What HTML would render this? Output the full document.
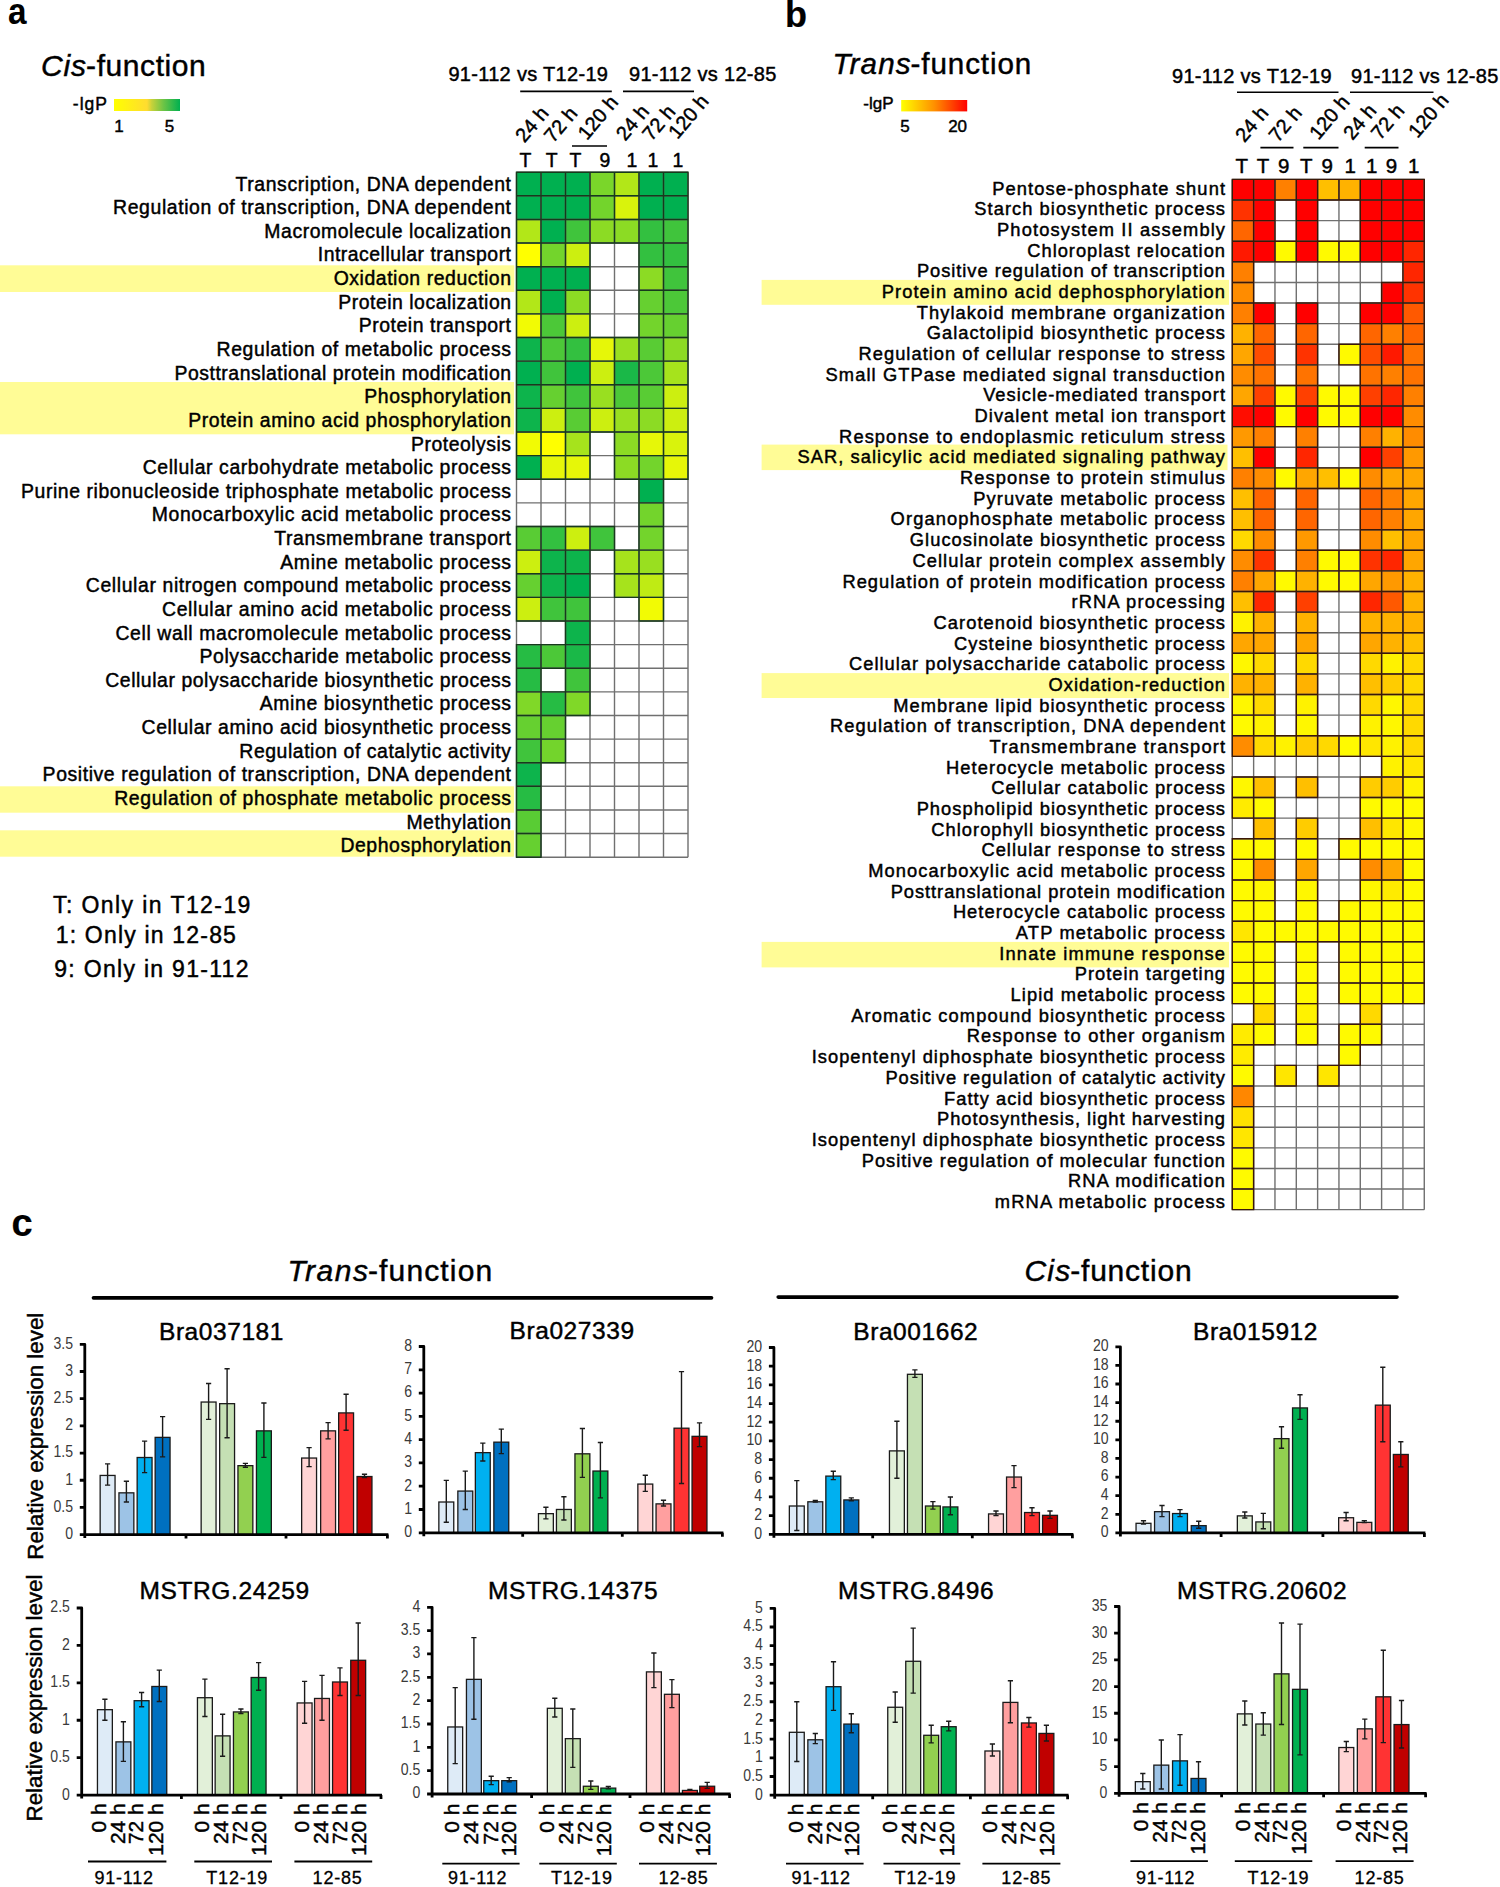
<!DOCTYPE html>
<html><head><meta charset="utf-8"><title>Figure</title>
<style>html,body{margin:0;padding:0;background:#fff;}svg{display:block;}svg text{font-family:"Liberation Sans",sans-serif;}</style>
</head><body>
<svg width="1500" height="1887" viewBox="0 0 1500 1887">
<defs><linearGradient id="gA" x1="0" x2="1" y1="0" y2="0"><stop offset="0" stop-color="#ffff00"/><stop offset="0.5" stop-color="#ffdc30"/><stop offset="0.57" stop-color="#c8d23a"/><stop offset="0.75" stop-color="#6cc446"/><stop offset="1" stop-color="#00b050"/></linearGradient><linearGradient id="gB" x1="0" x2="1" y1="0" y2="0"><stop offset="0" stop-color="#ffff00"/><stop offset="0.5" stop-color="#ff9000"/><stop offset="1" stop-color="#ff0000"/></linearGradient></defs>
<rect width="1500" height="1887" fill="#fff"/>
<text x="8.00" y="24.00" font-size="37" textLength="18.52" lengthAdjust="spacingAndGlyphs" font-weight="bold">a</text>
<text x="785.00" y="26.70" font-size="36" font-weight="bold" stroke="#000" stroke-width="0.2">b</text>
<text x="11.50" y="1236.40" font-size="38" font-weight="bold" stroke="#000" stroke-width="0.2">c</text>
<text x="41.00" y="76.00" font-size="30" textLength="45.06" lengthAdjust="spacing" font-style="italic" stroke="#000" stroke-width="0.45">Cis</text>
<text x="86.06" y="76.00" font-size="30" textLength="119.67" lengthAdjust="spacing" stroke="#000" stroke-width="0.45">-function</text>
<text x="72.77" y="109.90" font-size="17.5" textLength="34.23" lengthAdjust="spacing" stroke="#000" stroke-width="0.45">-lgP</text>
<rect x="114.00" y="99.00" width="66.00" height="12.00" fill="url(#gA)"/>
<text x="114.27" y="132.00" font-size="17" stroke="#000" stroke-width="0.45">1</text>
<text x="164.77" y="132.00" font-size="17" stroke="#000" stroke-width="0.45">5</text>
<text x="448.40" y="81.00" font-size="20" textLength="159.56" lengthAdjust="spacing" stroke="#000" stroke-width="0.45">91-112 vs T12-19</text>
<text x="629.00" y="81.00" font-size="20" textLength="147.35" lengthAdjust="spacing" stroke="#000" stroke-width="0.45">91-112 vs 12-85</text>
<line x1="520.20" y1="91.40" x2="611.80" y2="91.40" stroke="#000" stroke-width="1.6"/>
<line x1="623.00" y1="91.40" x2="694.00" y2="91.40" stroke="#000" stroke-width="1.6"/>
<line x1="572.00" y1="146.00" x2="607.00" y2="146.00" stroke="#000" stroke-width="1.6"/>
<text x="519.57" y="166.50" font-size="19.4" stroke="#000" stroke-width="0.45">T</text>
<text x="545.77" y="166.50" font-size="19.4" stroke="#000" stroke-width="0.45">T</text>
<text x="569.57" y="166.50" font-size="19.4" stroke="#000" stroke-width="0.45">T</text>
<text x="599.61" y="166.50" font-size="19.4" stroke="#000" stroke-width="0.45">9</text>
<text x="626.61" y="166.50" font-size="19.4" stroke="#000" stroke-width="0.45">1</text>
<text x="647.61" y="166.50" font-size="19.4" stroke="#000" stroke-width="0.45">1</text>
<text x="672.61" y="166.50" font-size="19.4" stroke="#000" stroke-width="0.45">1</text>
<text x="0" y="0" font-size="20" stroke="#000" stroke-width="0.45" transform="translate(524.60,143.60) rotate(-50)">24 h</text>
<text x="0" y="0" font-size="20" stroke="#000" stroke-width="0.45" transform="translate(553.30,143.70) rotate(-50)">72 h</text>
<text x="0" y="0" font-size="20" stroke="#000" stroke-width="0.45" transform="translate(586.90,141.00) rotate(-50)">120 h</text>
<text x="0" y="0" font-size="20" stroke="#000" stroke-width="0.45" transform="translate(625.20,141.70) rotate(-50)">24 h</text>
<text x="0" y="0" font-size="20" stroke="#000" stroke-width="0.45" transform="translate(651.50,142.10) rotate(-50)">72 h</text>
<text x="0" y="0" font-size="20" stroke="#000" stroke-width="0.45" transform="translate(677.60,140.00) rotate(-50)">120 h</text>
<rect x="0.00" y="265.30" width="514.30" height="26.70" fill="#FFFC96"/>
<rect x="0.00" y="382.00" width="514.00" height="52.30" fill="#FFFC96"/>
<rect x="0.00" y="786.30" width="514.00" height="26.40" fill="#FFFC96"/>
<rect x="0.00" y="830.30" width="514.00" height="26.40" fill="#FFFC96"/>
<text x="235.52" y="190.60" font-size="19.4" textLength="275.48" lengthAdjust="spacing" stroke="#000" stroke-width="0.45">Transcription, DNA dependent</text>
<text x="113.09" y="214.23" font-size="19.4" textLength="397.91" lengthAdjust="spacing" stroke="#000" stroke-width="0.45">Regulation of transcription, DNA dependent</text>
<text x="264.36" y="237.86" font-size="19.4" textLength="246.64" lengthAdjust="spacing" stroke="#000" stroke-width="0.45">Macromolecule localization</text>
<text x="317.78" y="261.49" font-size="19.4" textLength="193.22" lengthAdjust="spacing" stroke="#000" stroke-width="0.45">Intracellular transport</text>
<text x="333.67" y="285.12" font-size="19.4" textLength="177.33" lengthAdjust="spacing" stroke="#000" stroke-width="0.45">Oxidation reduction</text>
<text x="338.22" y="308.75" font-size="19.4" textLength="172.78" lengthAdjust="spacing" stroke="#000" stroke-width="0.45">Protein localization</text>
<text x="358.68" y="332.38" font-size="19.4" textLength="152.32" lengthAdjust="spacing" stroke="#000" stroke-width="0.45">Protein transport</text>
<text x="216.57" y="356.01" font-size="19.4" textLength="294.43" lengthAdjust="spacing" stroke="#000" stroke-width="0.45">Regulation of metabolic process</text>
<text x="174.53" y="379.64" font-size="19.4" textLength="336.47" lengthAdjust="spacing" stroke="#000" stroke-width="0.45">Posttranslational protein modification</text>
<text x="364.36" y="403.27" font-size="19.4" textLength="146.64" lengthAdjust="spacing" stroke="#000" stroke-width="0.45">Phosphorylation</text>
<text x="188.14" y="426.90" font-size="19.4" textLength="322.86" lengthAdjust="spacing" stroke="#000" stroke-width="0.45">Protein amino acid phosphorylation</text>
<text x="411.00" y="450.53" font-size="19.4" textLength="100.00" lengthAdjust="spacing" stroke="#000" stroke-width="0.45">Proteolysis</text>
<text x="142.72" y="474.16" font-size="19.4" textLength="368.28" lengthAdjust="spacing" stroke="#000" stroke-width="0.45">Cellular carbohydrate metabolic process</text>
<text x="21.04" y="497.79" font-size="19.4" textLength="489.96" lengthAdjust="spacing" stroke="#000" stroke-width="0.45">Purine ribonucleoside triphosphate metabolic process</text>
<text x="151.82" y="521.42" font-size="19.4" textLength="359.18" lengthAdjust="spacing" stroke="#000" stroke-width="0.45">Monocarboxylic acid metabolic process</text>
<text x="274.22" y="545.05" font-size="19.4" textLength="236.78" lengthAdjust="spacing" stroke="#000" stroke-width="0.45">Transmembrane transport</text>
<text x="280.27" y="568.68" font-size="19.4" textLength="230.73" lengthAdjust="spacing" stroke="#000" stroke-width="0.45">Amine metabolic process</text>
<text x="85.85" y="592.31" font-size="19.4" textLength="425.15" lengthAdjust="spacing" stroke="#000" stroke-width="0.45">Cellular nitrogen compound metabolic process</text>
<text x="162.04" y="615.94" font-size="19.4" textLength="348.96" lengthAdjust="spacing" stroke="#000" stroke-width="0.45">Cellular amino acid metabolic process</text>
<text x="115.47" y="639.57" font-size="19.4" textLength="395.53" lengthAdjust="spacing" stroke="#000" stroke-width="0.45">Cell wall macromolecule metabolic process</text>
<text x="199.56" y="663.20" font-size="19.4" textLength="311.44" lengthAdjust="spacing" stroke="#000" stroke-width="0.45">Polysaccharide metabolic process</text>
<text x="105.21" y="686.83" font-size="19.4" textLength="405.79" lengthAdjust="spacing" stroke="#000" stroke-width="0.45">Cellular polysaccharide biosynthetic process</text>
<text x="259.80" y="710.46" font-size="19.4" textLength="251.20" lengthAdjust="spacing" stroke="#000" stroke-width="0.45">Amine biosynthetic process</text>
<text x="141.57" y="734.09" font-size="19.4" textLength="369.43" lengthAdjust="spacing" stroke="#000" stroke-width="0.45">Cellular amino acid biosynthetic process</text>
<text x="239.33" y="757.72" font-size="19.4" textLength="271.67" lengthAdjust="spacing" stroke="#000" stroke-width="0.45">Regulation of catalytic activity</text>
<text x="42.62" y="781.35" font-size="19.4" textLength="468.38" lengthAdjust="spacing" stroke="#000" stroke-width="0.45">Positive regulation of transcription, DNA dependent</text>
<text x="114.23" y="804.98" font-size="19.4" textLength="396.77" lengthAdjust="spacing" stroke="#000" stroke-width="0.45">Regulation of phosphate metabolic process</text>
<text x="406.43" y="828.61" font-size="19.4" textLength="104.57" lengthAdjust="spacing" stroke="#000" stroke-width="0.45">Methylation</text>
<text x="340.48" y="852.24" font-size="19.4" textLength="170.52" lengthAdjust="spacing" stroke="#000" stroke-width="0.45">Dephosphorylation</text>
<rect x="516.50" y="172.20" width="24.50" height="23.62" fill="rgb(0,176,80)"/>
<rect x="541.00" y="172.20" width="24.50" height="23.62" fill="rgb(0,176,80)"/>
<rect x="565.50" y="172.20" width="24.50" height="23.62" fill="rgb(0,176,80)"/>
<rect x="590.00" y="172.20" width="24.50" height="23.62" fill="rgb(122,214,42)"/>
<rect x="614.50" y="172.20" width="24.50" height="23.62" fill="rgb(178,231,24)"/>
<rect x="639.00" y="172.20" width="24.50" height="23.62" fill="rgb(0,176,80)"/>
<rect x="663.50" y="172.20" width="24.50" height="23.62" fill="rgb(0,176,80)"/>
<rect x="516.50" y="195.82" width="24.50" height="23.62" fill="rgb(0,176,80)"/>
<rect x="541.00" y="195.82" width="24.50" height="23.62" fill="rgb(0,176,80)"/>
<rect x="565.50" y="195.82" width="24.50" height="23.62" fill="rgb(0,176,80)"/>
<rect x="590.00" y="195.82" width="24.50" height="23.62" fill="rgb(115,212,44)"/>
<rect x="614.50" y="195.82" width="24.50" height="23.62" fill="rgb(217,243,12)"/>
<rect x="639.00" y="195.82" width="24.50" height="23.62" fill="rgb(0,176,80)"/>
<rect x="663.50" y="195.82" width="24.50" height="23.62" fill="rgb(0,176,80)"/>
<rect x="516.50" y="219.44" width="24.50" height="23.62" fill="rgb(178,231,24)"/>
<rect x="541.00" y="219.44" width="24.50" height="23.62" fill="rgb(0,176,80)"/>
<rect x="565.50" y="219.44" width="24.50" height="23.62" fill="rgb(64,196,60)"/>
<rect x="590.00" y="219.44" width="24.50" height="23.62" fill="rgb(140,219,36)"/>
<rect x="614.50" y="219.44" width="24.50" height="23.62" fill="rgb(140,219,36)"/>
<rect x="639.00" y="219.44" width="24.50" height="23.62" fill="rgb(51,192,64)"/>
<rect x="663.50" y="219.44" width="24.50" height="23.62" fill="rgb(64,196,60)"/>
<rect x="516.50" y="243.06" width="24.50" height="23.62" fill="rgb(255,255,0)"/>
<rect x="541.00" y="243.06" width="24.50" height="23.62" fill="rgb(115,212,44)"/>
<rect x="565.50" y="243.06" width="24.50" height="23.62" fill="rgb(204,239,16)"/>
<rect x="639.00" y="243.06" width="24.50" height="23.62" fill="rgb(51,192,64)"/>
<rect x="663.50" y="243.06" width="24.50" height="23.62" fill="rgb(51,192,64)"/>
<rect x="516.50" y="266.68" width="24.50" height="23.62" fill="rgb(0,176,80)"/>
<rect x="541.00" y="266.68" width="24.50" height="23.62" fill="rgb(0,176,80)"/>
<rect x="565.50" y="266.68" width="24.50" height="23.62" fill="rgb(0,176,80)"/>
<rect x="639.00" y="266.68" width="24.50" height="23.62" fill="rgb(140,219,36)"/>
<rect x="663.50" y="266.68" width="24.50" height="23.62" fill="rgb(64,196,60)"/>
<rect x="516.50" y="290.30" width="24.50" height="23.62" fill="rgb(178,231,24)"/>
<rect x="541.00" y="290.30" width="24.50" height="23.62" fill="rgb(0,176,80)"/>
<rect x="565.50" y="290.30" width="24.50" height="23.62" fill="rgb(140,219,36)"/>
<rect x="639.00" y="290.30" width="24.50" height="23.62" fill="rgb(102,208,48)"/>
<rect x="663.50" y="290.30" width="24.50" height="23.62" fill="rgb(76,200,56)"/>
<rect x="516.50" y="313.92" width="24.50" height="23.62" fill="rgb(242,251,4)"/>
<rect x="541.00" y="313.92" width="24.50" height="23.62" fill="rgb(76,200,56)"/>
<rect x="565.50" y="313.92" width="24.50" height="23.62" fill="rgb(204,239,16)"/>
<rect x="639.00" y="313.92" width="24.50" height="23.62" fill="rgb(115,212,44)"/>
<rect x="663.50" y="313.92" width="24.50" height="23.62" fill="rgb(102,208,48)"/>
<rect x="516.50" y="337.54" width="24.50" height="23.62" fill="rgb(13,180,76)"/>
<rect x="541.00" y="337.54" width="24.50" height="23.62" fill="rgb(76,200,56)"/>
<rect x="565.50" y="337.54" width="24.50" height="23.62" fill="rgb(51,192,64)"/>
<rect x="590.00" y="337.54" width="24.50" height="23.62" fill="rgb(230,247,8)"/>
<rect x="614.50" y="337.54" width="24.50" height="23.62" fill="rgb(153,223,32)"/>
<rect x="639.00" y="337.54" width="24.50" height="23.62" fill="rgb(89,204,52)"/>
<rect x="663.50" y="337.54" width="24.50" height="23.62" fill="rgb(140,219,36)"/>
<rect x="516.50" y="361.16" width="24.50" height="23.62" fill="rgb(0,176,80)"/>
<rect x="541.00" y="361.16" width="24.50" height="23.62" fill="rgb(64,196,60)"/>
<rect x="565.50" y="361.16" width="24.50" height="23.62" fill="rgb(0,176,80)"/>
<rect x="590.00" y="361.16" width="24.50" height="23.62" fill="rgb(204,239,16)"/>
<rect x="614.50" y="361.16" width="24.50" height="23.62" fill="rgb(26,184,72)"/>
<rect x="639.00" y="361.16" width="24.50" height="23.62" fill="rgb(76,200,56)"/>
<rect x="663.50" y="361.16" width="24.50" height="23.62" fill="rgb(166,227,28)"/>
<rect x="516.50" y="384.78" width="24.50" height="23.62" fill="rgb(13,180,76)"/>
<rect x="541.00" y="384.78" width="24.50" height="23.62" fill="rgb(102,208,48)"/>
<rect x="565.50" y="384.78" width="24.50" height="23.62" fill="rgb(64,196,60)"/>
<rect x="590.00" y="384.78" width="24.50" height="23.62" fill="rgb(153,223,32)"/>
<rect x="614.50" y="384.78" width="24.50" height="23.62" fill="rgb(76,200,56)"/>
<rect x="639.00" y="384.78" width="24.50" height="23.62" fill="rgb(89,204,52)"/>
<rect x="663.50" y="384.78" width="24.50" height="23.62" fill="rgb(204,239,16)"/>
<rect x="516.50" y="408.40" width="24.50" height="23.62" fill="rgb(13,180,76)"/>
<rect x="541.00" y="408.40" width="24.50" height="23.62" fill="rgb(204,239,16)"/>
<rect x="565.50" y="408.40" width="24.50" height="23.62" fill="rgb(89,204,52)"/>
<rect x="590.00" y="408.40" width="24.50" height="23.62" fill="rgb(204,239,16)"/>
<rect x="614.50" y="408.40" width="24.50" height="23.62" fill="rgb(153,223,32)"/>
<rect x="639.00" y="408.40" width="24.50" height="23.62" fill="rgb(140,219,36)"/>
<rect x="663.50" y="408.40" width="24.50" height="23.62" fill="rgb(204,239,16)"/>
<rect x="516.50" y="432.02" width="24.50" height="23.62" fill="rgb(242,251,4)"/>
<rect x="541.00" y="432.02" width="24.50" height="23.62" fill="rgb(255,255,0)"/>
<rect x="565.50" y="432.02" width="24.50" height="23.62" fill="rgb(166,227,28)"/>
<rect x="614.50" y="432.02" width="24.50" height="23.62" fill="rgb(140,219,36)"/>
<rect x="639.00" y="432.02" width="24.50" height="23.62" fill="rgb(230,247,8)"/>
<rect x="663.50" y="432.02" width="24.50" height="23.62" fill="rgb(217,243,12)"/>
<rect x="516.50" y="455.64" width="24.50" height="23.62" fill="rgb(0,176,80)"/>
<rect x="541.00" y="455.64" width="24.50" height="23.62" fill="rgb(230,247,8)"/>
<rect x="565.50" y="455.64" width="24.50" height="23.62" fill="rgb(230,247,8)"/>
<rect x="614.50" y="455.64" width="24.50" height="23.62" fill="rgb(140,219,36)"/>
<rect x="639.00" y="455.64" width="24.50" height="23.62" fill="rgb(115,212,44)"/>
<rect x="663.50" y="455.64" width="24.50" height="23.62" fill="rgb(230,247,8)"/>
<rect x="639.00" y="479.26" width="24.50" height="23.62" fill="rgb(0,176,80)"/>
<rect x="639.00" y="502.88" width="24.50" height="23.62" fill="rgb(115,212,44)"/>
<rect x="516.50" y="526.50" width="24.50" height="23.62" fill="rgb(89,204,52)"/>
<rect x="541.00" y="526.50" width="24.50" height="23.62" fill="rgb(51,192,64)"/>
<rect x="565.50" y="526.50" width="24.50" height="23.62" fill="rgb(204,239,16)"/>
<rect x="590.00" y="526.50" width="24.50" height="23.62" fill="rgb(64,196,60)"/>
<rect x="639.00" y="526.50" width="24.50" height="23.62" fill="rgb(115,212,44)"/>
<rect x="516.50" y="550.12" width="24.50" height="23.62" fill="rgb(204,239,16)"/>
<rect x="541.00" y="550.12" width="24.50" height="23.62" fill="rgb(13,180,76)"/>
<rect x="565.50" y="550.12" width="24.50" height="23.62" fill="rgb(13,180,76)"/>
<rect x="614.50" y="550.12" width="24.50" height="23.62" fill="rgb(166,227,28)"/>
<rect x="639.00" y="550.12" width="24.50" height="23.62" fill="rgb(153,223,32)"/>
<rect x="516.50" y="573.74" width="24.50" height="23.62" fill="rgb(102,208,48)"/>
<rect x="541.00" y="573.74" width="24.50" height="23.62" fill="rgb(13,180,76)"/>
<rect x="565.50" y="573.74" width="24.50" height="23.62" fill="rgb(0,176,80)"/>
<rect x="614.50" y="573.74" width="24.50" height="23.62" fill="rgb(166,227,28)"/>
<rect x="639.00" y="573.74" width="24.50" height="23.62" fill="rgb(191,235,20)"/>
<rect x="516.50" y="597.36" width="24.50" height="23.62" fill="rgb(204,239,16)"/>
<rect x="541.00" y="597.36" width="24.50" height="23.62" fill="rgb(64,196,60)"/>
<rect x="565.50" y="597.36" width="24.50" height="23.62" fill="rgb(64,196,60)"/>
<rect x="639.00" y="597.36" width="24.50" height="23.62" fill="rgb(242,251,4)"/>
<rect x="565.50" y="620.98" width="24.50" height="23.62" fill="rgb(13,180,76)"/>
<rect x="516.50" y="644.60" width="24.50" height="23.62" fill="rgb(38,188,68)"/>
<rect x="541.00" y="644.60" width="24.50" height="23.62" fill="rgb(76,200,56)"/>
<rect x="565.50" y="644.60" width="24.50" height="23.62" fill="rgb(26,184,72)"/>
<rect x="516.50" y="668.22" width="24.50" height="23.62" fill="rgb(38,188,68)"/>
<rect x="565.50" y="668.22" width="24.50" height="23.62" fill="rgb(64,196,60)"/>
<rect x="516.50" y="691.84" width="24.50" height="23.62" fill="rgb(128,216,40)"/>
<rect x="541.00" y="691.84" width="24.50" height="23.62" fill="rgb(38,188,68)"/>
<rect x="565.50" y="691.84" width="24.50" height="23.62" fill="rgb(128,216,40)"/>
<rect x="516.50" y="715.46" width="24.50" height="23.62" fill="rgb(102,208,48)"/>
<rect x="541.00" y="715.46" width="24.50" height="23.62" fill="rgb(102,208,48)"/>
<rect x="516.50" y="739.08" width="24.50" height="23.62" fill="rgb(64,196,60)"/>
<rect x="541.00" y="739.08" width="24.50" height="23.62" fill="rgb(115,212,44)"/>
<rect x="516.50" y="762.70" width="24.50" height="23.62" fill="rgb(13,180,76)"/>
<rect x="516.50" y="786.32" width="24.50" height="23.62" fill="rgb(38,188,68)"/>
<rect x="516.50" y="809.94" width="24.50" height="23.62" fill="rgb(89,204,52)"/>
<rect x="516.50" y="833.56" width="24.50" height="23.62" fill="rgb(102,208,48)"/>
<path d="M516.50 172.20H688.00M516.50 195.82H688.00M516.50 219.44H688.00M516.50 243.06H688.00M516.50 266.68H688.00M516.50 290.30H688.00M516.50 313.92H688.00M516.50 337.54H688.00M516.50 361.16H688.00M516.50 384.78H688.00M516.50 408.40H688.00M516.50 432.02H688.00M516.50 455.64H688.00M516.50 479.26H688.00M516.50 502.88H688.00M516.50 526.50H688.00M516.50 550.12H688.00M516.50 573.74H688.00M516.50 597.36H688.00M516.50 620.98H688.00M516.50 644.60H688.00M516.50 668.22H688.00M516.50 691.84H688.00M516.50 715.46H688.00M516.50 739.08H688.00M516.50 762.70H688.00M516.50 786.32H688.00M516.50 809.94H688.00M516.50 833.56H688.00M516.50 857.18H688.00M516.50 172.20V857.18M541.00 172.20V857.18M565.50 172.20V857.18M590.00 172.20V857.18M614.50 172.20V857.18M639.00 172.20V857.18M663.50 172.20V857.18M688.00 172.20V857.18" stroke="#707070" stroke-width="1.4" fill="none"/>
<path d="M516.50 172.20h24.50v23.62h-24.50zM541.00 172.20h24.50v23.62h-24.50zM565.50 172.20h24.50v23.62h-24.50zM590.00 172.20h24.50v23.62h-24.50zM614.50 172.20h24.50v23.62h-24.50zM639.00 172.20h24.50v23.62h-24.50zM663.50 172.20h24.50v23.62h-24.50zM516.50 195.82h24.50v23.62h-24.50zM541.00 195.82h24.50v23.62h-24.50zM565.50 195.82h24.50v23.62h-24.50zM590.00 195.82h24.50v23.62h-24.50zM614.50 195.82h24.50v23.62h-24.50zM639.00 195.82h24.50v23.62h-24.50zM663.50 195.82h24.50v23.62h-24.50zM516.50 219.44h24.50v23.62h-24.50zM541.00 219.44h24.50v23.62h-24.50zM565.50 219.44h24.50v23.62h-24.50zM590.00 219.44h24.50v23.62h-24.50zM614.50 219.44h24.50v23.62h-24.50zM639.00 219.44h24.50v23.62h-24.50zM663.50 219.44h24.50v23.62h-24.50zM516.50 243.06h24.50v23.62h-24.50zM541.00 243.06h24.50v23.62h-24.50zM565.50 243.06h24.50v23.62h-24.50zM639.00 243.06h24.50v23.62h-24.50zM663.50 243.06h24.50v23.62h-24.50zM516.50 266.68h24.50v23.62h-24.50zM541.00 266.68h24.50v23.62h-24.50zM565.50 266.68h24.50v23.62h-24.50zM639.00 266.68h24.50v23.62h-24.50zM663.50 266.68h24.50v23.62h-24.50zM516.50 290.30h24.50v23.62h-24.50zM541.00 290.30h24.50v23.62h-24.50zM565.50 290.30h24.50v23.62h-24.50zM639.00 290.30h24.50v23.62h-24.50zM663.50 290.30h24.50v23.62h-24.50zM516.50 313.92h24.50v23.62h-24.50zM541.00 313.92h24.50v23.62h-24.50zM565.50 313.92h24.50v23.62h-24.50zM639.00 313.92h24.50v23.62h-24.50zM663.50 313.92h24.50v23.62h-24.50zM516.50 337.54h24.50v23.62h-24.50zM541.00 337.54h24.50v23.62h-24.50zM565.50 337.54h24.50v23.62h-24.50zM590.00 337.54h24.50v23.62h-24.50zM614.50 337.54h24.50v23.62h-24.50zM639.00 337.54h24.50v23.62h-24.50zM663.50 337.54h24.50v23.62h-24.50zM516.50 361.16h24.50v23.62h-24.50zM541.00 361.16h24.50v23.62h-24.50zM565.50 361.16h24.50v23.62h-24.50zM590.00 361.16h24.50v23.62h-24.50zM614.50 361.16h24.50v23.62h-24.50zM639.00 361.16h24.50v23.62h-24.50zM663.50 361.16h24.50v23.62h-24.50zM516.50 384.78h24.50v23.62h-24.50zM541.00 384.78h24.50v23.62h-24.50zM565.50 384.78h24.50v23.62h-24.50zM590.00 384.78h24.50v23.62h-24.50zM614.50 384.78h24.50v23.62h-24.50zM639.00 384.78h24.50v23.62h-24.50zM663.50 384.78h24.50v23.62h-24.50zM516.50 408.40h24.50v23.62h-24.50zM541.00 408.40h24.50v23.62h-24.50zM565.50 408.40h24.50v23.62h-24.50zM590.00 408.40h24.50v23.62h-24.50zM614.50 408.40h24.50v23.62h-24.50zM639.00 408.40h24.50v23.62h-24.50zM663.50 408.40h24.50v23.62h-24.50zM516.50 432.02h24.50v23.62h-24.50zM541.00 432.02h24.50v23.62h-24.50zM565.50 432.02h24.50v23.62h-24.50zM614.50 432.02h24.50v23.62h-24.50zM639.00 432.02h24.50v23.62h-24.50zM663.50 432.02h24.50v23.62h-24.50zM516.50 455.64h24.50v23.62h-24.50zM541.00 455.64h24.50v23.62h-24.50zM565.50 455.64h24.50v23.62h-24.50zM614.50 455.64h24.50v23.62h-24.50zM639.00 455.64h24.50v23.62h-24.50zM663.50 455.64h24.50v23.62h-24.50zM639.00 479.26h24.50v23.62h-24.50zM639.00 502.88h24.50v23.62h-24.50zM516.50 526.50h24.50v23.62h-24.50zM541.00 526.50h24.50v23.62h-24.50zM565.50 526.50h24.50v23.62h-24.50zM590.00 526.50h24.50v23.62h-24.50zM639.00 526.50h24.50v23.62h-24.50zM516.50 550.12h24.50v23.62h-24.50zM541.00 550.12h24.50v23.62h-24.50zM565.50 550.12h24.50v23.62h-24.50zM614.50 550.12h24.50v23.62h-24.50zM639.00 550.12h24.50v23.62h-24.50zM516.50 573.74h24.50v23.62h-24.50zM541.00 573.74h24.50v23.62h-24.50zM565.50 573.74h24.50v23.62h-24.50zM614.50 573.74h24.50v23.62h-24.50zM639.00 573.74h24.50v23.62h-24.50zM516.50 597.36h24.50v23.62h-24.50zM541.00 597.36h24.50v23.62h-24.50zM565.50 597.36h24.50v23.62h-24.50zM639.00 597.36h24.50v23.62h-24.50zM565.50 620.98h24.50v23.62h-24.50zM516.50 644.60h24.50v23.62h-24.50zM541.00 644.60h24.50v23.62h-24.50zM565.50 644.60h24.50v23.62h-24.50zM516.50 668.22h24.50v23.62h-24.50zM565.50 668.22h24.50v23.62h-24.50zM516.50 691.84h24.50v23.62h-24.50zM541.00 691.84h24.50v23.62h-24.50zM565.50 691.84h24.50v23.62h-24.50zM516.50 715.46h24.50v23.62h-24.50zM541.00 715.46h24.50v23.62h-24.50zM516.50 739.08h24.50v23.62h-24.50zM541.00 739.08h24.50v23.62h-24.50zM516.50 762.70h24.50v23.62h-24.50zM516.50 786.32h24.50v23.62h-24.50zM516.50 809.94h24.50v23.62h-24.50zM516.50 833.56h24.50v23.62h-24.50z" stroke="#173a1c" stroke-width="1.4" fill="none"/>
<text x="52.98" y="913.20" font-size="23" textLength="197.43" lengthAdjust="spacing" stroke="#000" stroke-width="0.45">T: Only in T12-19</text>
<text x="55.69" y="942.90" font-size="23" textLength="180.23" lengthAdjust="spacing" stroke="#000" stroke-width="0.45">1: Only in 12-85</text>
<text x="54.24" y="976.70" font-size="23" textLength="194.27" lengthAdjust="spacing" stroke="#000" stroke-width="0.45">9: Only in 91-112</text>
<text x="832.50" y="73.80" font-size="29.6" textLength="78.10" lengthAdjust="spacing" font-style="italic" stroke="#000" stroke-width="0.45">Trans</text>
<text x="910.60" y="73.80" font-size="29.6" textLength="120.68" lengthAdjust="spacing" stroke="#000" stroke-width="0.45">-function</text>
<text x="863.37" y="109.20" font-size="17" stroke="#000" stroke-width="0.45">-lgP</text>
<rect x="901.20" y="100.00" width="66.00" height="11.40" fill="url(#gB)"/>
<text x="900.27" y="131.60" font-size="17" stroke="#000" stroke-width="0.45">5</text>
<text x="948.15" y="131.60" font-size="17" stroke="#000" stroke-width="0.45">20</text>
<text x="1172.00" y="82.50" font-size="20" textLength="159.56" lengthAdjust="spacing" stroke="#000" stroke-width="0.45">91-112 vs T12-19</text>
<text x="1351.00" y="82.50" font-size="20" textLength="147.35" lengthAdjust="spacing" stroke="#000" stroke-width="0.45">91-112 vs 12-85</text>
<line x1="1237.00" y1="92.30" x2="1338.50" y2="92.30" stroke="#000" stroke-width="1.6"/>
<line x1="1350.00" y1="92.30" x2="1433.50" y2="92.30" stroke="#000" stroke-width="1.6"/>
<line x1="1260.40" y1="147.60" x2="1293.50" y2="147.60" stroke="#000" stroke-width="1.6"/>
<line x1="1303.30" y1="147.60" x2="1338.50" y2="147.60" stroke="#000" stroke-width="1.6"/>
<line x1="1364.70" y1="147.60" x2="1398.50" y2="147.60" stroke="#000" stroke-width="1.6"/>
<text x="1235.44" y="172.50" font-size="20.5" stroke="#000" stroke-width="0.45">T</text>
<text x="1256.74" y="172.50" font-size="20.5" stroke="#000" stroke-width="0.45">T</text>
<text x="1278.00" y="172.50" font-size="20.5" stroke="#000" stroke-width="0.45">9</text>
<text x="1300.04" y="172.50" font-size="20.5" stroke="#000" stroke-width="0.45">T</text>
<text x="1321.60" y="172.50" font-size="20.5" stroke="#000" stroke-width="0.45">9</text>
<text x="1344.50" y="172.50" font-size="20.5" stroke="#000" stroke-width="0.45">1</text>
<text x="1366.00" y="172.50" font-size="20.5" stroke="#000" stroke-width="0.45">1</text>
<text x="1385.80" y="172.50" font-size="20.5" stroke="#000" stroke-width="0.45">9</text>
<text x="1407.90" y="172.50" font-size="20.5" stroke="#000" stroke-width="0.45">1</text>
<text x="0" y="0" font-size="20" stroke="#000" stroke-width="0.45" transform="translate(1244.40,143.30) rotate(-50)">24 h</text>
<text x="0" y="0" font-size="20" stroke="#000" stroke-width="0.45" transform="translate(1277.90,143.30) rotate(-50)">72 h</text>
<text x="0" y="0" font-size="20" stroke="#000" stroke-width="0.45" transform="translate(1318.40,140.80) rotate(-50)">120 h</text>
<text x="0" y="0" font-size="20" stroke="#000" stroke-width="0.45" transform="translate(1352.40,141.10) rotate(-50)">24 h</text>
<text x="0" y="0" font-size="20" stroke="#000" stroke-width="0.45" transform="translate(1380.30,141.10) rotate(-50)">72 h</text>
<text x="0" y="0" font-size="20" stroke="#000" stroke-width="0.45" transform="translate(1417.60,139.00) rotate(-50)">120 h</text>
<rect x="761.60" y="279.90" width="467.40" height="24.90" fill="#FFFC96"/>
<rect x="761.60" y="444.60" width="465.90" height="25.50" fill="#FFFC96"/>
<rect x="761.60" y="673.10" width="467.40" height="24.90" fill="#FFFC96"/>
<rect x="761.60" y="941.90" width="467.40" height="25.50" fill="#FFFC96"/>
<text x="992.16" y="194.60" font-size="18.3" textLength="232.84" lengthAdjust="spacing" stroke="#000" stroke-width="0.45">Pentose-phosphate shunt</text>
<text x="974.36" y="215.28" font-size="18.3" textLength="250.64" lengthAdjust="spacing" stroke="#000" stroke-width="0.45">Starch biosynthetic process</text>
<text x="997.01" y="235.96" font-size="18.3" textLength="227.99" lengthAdjust="spacing" stroke="#000" stroke-width="0.45">Photosystem II assembly</text>
<text x="1027.27" y="256.64" font-size="18.3" textLength="197.73" lengthAdjust="spacing" stroke="#000" stroke-width="0.45">Chloroplast relocation</text>
<text x="916.89" y="277.32" font-size="18.3" textLength="308.11" lengthAdjust="spacing" stroke="#000" stroke-width="0.45">Positive regulation of transcription</text>
<text x="881.78" y="298.00" font-size="18.3" textLength="343.22" lengthAdjust="spacing" stroke="#000" stroke-width="0.45">Protein amino acid dephosphorylation</text>
<text x="916.65" y="318.68" font-size="18.3" textLength="308.35" lengthAdjust="spacing" stroke="#000" stroke-width="0.45">Thylakoid membrane organization</text>
<text x="926.84" y="339.36" font-size="18.3" textLength="298.16" lengthAdjust="spacing" stroke="#000" stroke-width="0.45">Galactolipid biosynthetic process</text>
<text x="858.53" y="360.04" font-size="18.3" textLength="366.47" lengthAdjust="spacing" stroke="#000" stroke-width="0.45">Regulation of cellular response to stress</text>
<text x="825.51" y="380.72" font-size="18.3" textLength="399.49" lengthAdjust="spacing" stroke="#000" stroke-width="0.45">Small GTPase mediated signal transduction</text>
<text x="983.17" y="401.40" font-size="18.3" textLength="241.83" lengthAdjust="spacing" stroke="#000" stroke-width="0.45">Vesicle-mediated transport</text>
<text x="974.59" y="422.08" font-size="18.3" textLength="250.41" lengthAdjust="spacing" stroke="#000" stroke-width="0.45">Divalent metal ion transport</text>
<text x="839.10" y="442.76" font-size="18.3" textLength="385.90" lengthAdjust="spacing" stroke="#000" stroke-width="0.45">Response to endoplasmic reticulum stress</text>
<text x="797.46" y="463.44" font-size="18.3" textLength="427.54" lengthAdjust="spacing" stroke="#000" stroke-width="0.45">SAR, salicylic acid mediated signaling pathway</text>
<text x="959.88" y="484.12" font-size="18.3" textLength="265.12" lengthAdjust="spacing" stroke="#000" stroke-width="0.45">Response to protein stimulus</text>
<text x="973.24" y="504.80" font-size="18.3" textLength="251.76" lengthAdjust="spacing" stroke="#000" stroke-width="0.45">Pyruvate metabolic process</text>
<text x="890.61" y="525.48" font-size="18.3" textLength="334.39" lengthAdjust="spacing" stroke="#000" stroke-width="0.45">Organophosphate metabolic process</text>
<text x="909.87" y="546.16" font-size="18.3" textLength="315.13" lengthAdjust="spacing" stroke="#000" stroke-width="0.45">Glucosinolate biosynthetic process</text>
<text x="912.40" y="566.84" font-size="18.3" textLength="312.60" lengthAdjust="spacing" stroke="#000" stroke-width="0.45">Cellular protein complex assembly</text>
<text x="842.45" y="587.52" font-size="18.3" textLength="382.55" lengthAdjust="spacing" stroke="#000" stroke-width="0.45">Regulation of protein modification process</text>
<text x="1071.41" y="608.20" font-size="18.3" textLength="153.59" lengthAdjust="spacing" stroke="#000" stroke-width="0.45">rRNA processing</text>
<text x="933.62" y="628.88" font-size="18.3" textLength="291.38" lengthAdjust="spacing" stroke="#000" stroke-width="0.45">Carotenoid biosynthetic process</text>
<text x="954.00" y="649.56" font-size="18.3" textLength="271.00" lengthAdjust="spacing" stroke="#000" stroke-width="0.45">Cysteine biosynthetic process</text>
<text x="849.03" y="670.24" font-size="18.3" textLength="375.97" lengthAdjust="spacing" stroke="#000" stroke-width="0.45">Cellular polysaccharide catabolic process</text>
<text x="1048.54" y="690.92" font-size="18.3" textLength="176.46" lengthAdjust="spacing" stroke="#000" stroke-width="0.45">Oxidation-reduction</text>
<text x="893.15" y="711.60" font-size="18.3" textLength="331.85" lengthAdjust="spacing" stroke="#000" stroke-width="0.45">Membrane lipid biosynthetic process</text>
<text x="829.98" y="732.28" font-size="18.3" textLength="395.02" lengthAdjust="spacing" stroke="#000" stroke-width="0.45">Regulation of transcription, DNA dependent</text>
<text x="989.60" y="752.96" font-size="18.3" textLength="235.40" lengthAdjust="spacing" stroke="#000" stroke-width="0.45">Transmembrane transport</text>
<text x="946.10" y="773.64" font-size="18.3" textLength="278.90" lengthAdjust="spacing" stroke="#000" stroke-width="0.45">Heterocycle metabolic process</text>
<text x="991.33" y="794.32" font-size="18.3" textLength="233.67" lengthAdjust="spacing" stroke="#000" stroke-width="0.45">Cellular catabolic process</text>
<text x="916.64" y="815.00" font-size="18.3" textLength="308.36" lengthAdjust="spacing" stroke="#000" stroke-width="0.45">Phospholipid biosynthetic process</text>
<text x="931.37" y="835.68" font-size="18.3" textLength="293.63" lengthAdjust="spacing" stroke="#000" stroke-width="0.45">Chlorophyll biosynthetic process</text>
<text x="981.39" y="856.36" font-size="18.3" textLength="243.61" lengthAdjust="spacing" stroke="#000" stroke-width="0.45">Cellular response to stress</text>
<text x="868.28" y="877.04" font-size="18.3" textLength="356.72" lengthAdjust="spacing" stroke="#000" stroke-width="0.45">Monocarboxylic acid metabolic process</text>
<text x="890.63" y="897.72" font-size="18.3" textLength="334.37" lengthAdjust="spacing" stroke="#000" stroke-width="0.45">Posttranslational protein modification</text>
<text x="952.88" y="918.40" font-size="18.3" textLength="272.12" lengthAdjust="spacing" stroke="#000" stroke-width="0.45">Heterocycle catabolic process</text>
<text x="1015.84" y="939.08" font-size="18.3" textLength="209.16" lengthAdjust="spacing" stroke="#000" stroke-width="0.45">ATP metabolic process</text>
<text x="999.22" y="959.76" font-size="18.3" textLength="225.78" lengthAdjust="spacing" stroke="#000" stroke-width="0.45">Innate immune response</text>
<text x="1074.77" y="980.44" font-size="18.3" textLength="150.23" lengthAdjust="spacing" stroke="#000" stroke-width="0.45">Protein targeting</text>
<text x="1010.55" y="1001.12" font-size="18.3" textLength="214.45" lengthAdjust="spacing" stroke="#000" stroke-width="0.45">Lipid metabolic process</text>
<text x="851.30" y="1021.80" font-size="18.3" textLength="373.70" lengthAdjust="spacing" stroke="#000" stroke-width="0.45">Aromatic compound biosynthetic process</text>
<text x="966.65" y="1042.48" font-size="18.3" textLength="258.35" lengthAdjust="spacing" stroke="#000" stroke-width="0.45">Response to other organism</text>
<text x="811.64" y="1063.16" font-size="18.3" textLength="413.36" lengthAdjust="spacing" stroke="#000" stroke-width="0.45">Isopentenyl diphosphate biosynthetic process</text>
<text x="885.48" y="1083.84" font-size="18.3" textLength="339.52" lengthAdjust="spacing" stroke="#000" stroke-width="0.45">Positive regulation of catalytic activity</text>
<text x="944.06" y="1104.52" font-size="18.3" textLength="280.94" lengthAdjust="spacing" stroke="#000" stroke-width="0.45">Fatty acid biosynthetic process</text>
<text x="937.01" y="1125.20" font-size="18.3" textLength="287.99" lengthAdjust="spacing" stroke="#000" stroke-width="0.45">Photosynthesis, light harvesting</text>
<text x="811.64" y="1145.88" font-size="18.3" textLength="413.36" lengthAdjust="spacing" stroke="#000" stroke-width="0.45">Isopentenyl diphosphate biosynthetic process</text>
<text x="861.69" y="1166.56" font-size="18.3" textLength="363.31" lengthAdjust="spacing" stroke="#000" stroke-width="0.45">Positive regulation of molecular function</text>
<text x="1068.02" y="1187.24" font-size="18.3" textLength="156.98" lengthAdjust="spacing" stroke="#000" stroke-width="0.45">RNA modification</text>
<text x="994.75" y="1207.92" font-size="18.3" textLength="230.25" lengthAdjust="spacing" stroke="#000" stroke-width="0.45">mRNA metabolic process</text>
<rect x="1232.30" y="179.40" width="21.33" height="20.61" fill="rgb(255,0,0)"/>
<rect x="1253.63" y="179.40" width="21.33" height="20.61" fill="rgb(255,0,0)"/>
<rect x="1274.96" y="179.40" width="21.33" height="20.61" fill="rgb(255,128,0)"/>
<rect x="1296.29" y="179.40" width="21.33" height="20.61" fill="rgb(255,0,0)"/>
<rect x="1317.62" y="179.40" width="21.33" height="20.61" fill="rgb(255,191,0)"/>
<rect x="1338.95" y="179.40" width="21.33" height="20.61" fill="rgb(255,178,0)"/>
<rect x="1360.28" y="179.40" width="21.33" height="20.61" fill="rgb(255,0,0)"/>
<rect x="1381.61" y="179.40" width="21.33" height="20.61" fill="rgb(255,0,0)"/>
<rect x="1402.94" y="179.40" width="21.33" height="20.61" fill="rgb(255,0,0)"/>
<rect x="1232.30" y="200.00" width="21.33" height="20.61" fill="rgb(255,51,0)"/>
<rect x="1253.63" y="200.00" width="21.33" height="20.61" fill="rgb(255,0,0)"/>
<rect x="1296.29" y="200.00" width="21.33" height="20.61" fill="rgb(255,0,0)"/>
<rect x="1360.28" y="200.00" width="21.33" height="20.61" fill="rgb(255,0,0)"/>
<rect x="1381.61" y="200.00" width="21.33" height="20.61" fill="rgb(255,0,0)"/>
<rect x="1402.94" y="200.00" width="21.33" height="20.61" fill="rgb(255,0,0)"/>
<rect x="1232.30" y="220.61" width="21.33" height="20.61" fill="rgb(255,102,0)"/>
<rect x="1253.63" y="220.61" width="21.33" height="20.61" fill="rgb(255,0,0)"/>
<rect x="1296.29" y="220.61" width="21.33" height="20.61" fill="rgb(255,0,0)"/>
<rect x="1360.28" y="220.61" width="21.33" height="20.61" fill="rgb(255,0,0)"/>
<rect x="1381.61" y="220.61" width="21.33" height="20.61" fill="rgb(255,0,0)"/>
<rect x="1402.94" y="220.61" width="21.33" height="20.61" fill="rgb(255,0,0)"/>
<rect x="1232.30" y="241.22" width="21.33" height="20.61" fill="rgb(255,25,0)"/>
<rect x="1253.63" y="241.22" width="21.33" height="20.61" fill="rgb(255,0,0)"/>
<rect x="1274.96" y="241.22" width="21.33" height="20.61" fill="rgb(255,250,0)"/>
<rect x="1296.29" y="241.22" width="21.33" height="20.61" fill="rgb(255,0,0)"/>
<rect x="1317.62" y="241.22" width="21.33" height="20.61" fill="rgb(255,250,0)"/>
<rect x="1338.95" y="241.22" width="21.33" height="20.61" fill="rgb(255,250,0)"/>
<rect x="1360.28" y="241.22" width="21.33" height="20.61" fill="rgb(255,0,0)"/>
<rect x="1381.61" y="241.22" width="21.33" height="20.61" fill="rgb(255,0,0)"/>
<rect x="1402.94" y="241.22" width="21.33" height="20.61" fill="rgb(255,38,0)"/>
<rect x="1232.30" y="261.82" width="21.33" height="20.61" fill="rgb(255,128,0)"/>
<rect x="1402.94" y="261.82" width="21.33" height="20.61" fill="rgb(255,38,0)"/>
<rect x="1232.30" y="282.43" width="21.33" height="20.61" fill="rgb(255,140,0)"/>
<rect x="1381.61" y="282.43" width="21.33" height="20.61" fill="rgb(255,0,0)"/>
<rect x="1402.94" y="282.43" width="21.33" height="20.61" fill="rgb(255,51,0)"/>
<rect x="1232.30" y="303.03" width="21.33" height="20.61" fill="rgb(255,128,0)"/>
<rect x="1253.63" y="303.03" width="21.33" height="20.61" fill="rgb(255,0,0)"/>
<rect x="1296.29" y="303.03" width="21.33" height="20.61" fill="rgb(255,0,0)"/>
<rect x="1360.28" y="303.03" width="21.33" height="20.61" fill="rgb(255,0,0)"/>
<rect x="1381.61" y="303.03" width="21.33" height="20.61" fill="rgb(255,0,0)"/>
<rect x="1402.94" y="303.03" width="21.33" height="20.61" fill="rgb(255,89,0)"/>
<rect x="1232.30" y="323.63" width="21.33" height="20.61" fill="rgb(255,178,0)"/>
<rect x="1253.63" y="323.63" width="21.33" height="20.61" fill="rgb(255,102,0)"/>
<rect x="1296.29" y="323.63" width="21.33" height="20.61" fill="rgb(255,102,0)"/>
<rect x="1360.28" y="323.63" width="21.33" height="20.61" fill="rgb(255,102,0)"/>
<rect x="1381.61" y="323.63" width="21.33" height="20.61" fill="rgb(255,128,0)"/>
<rect x="1402.94" y="323.63" width="21.33" height="20.61" fill="rgb(255,102,0)"/>
<rect x="1232.30" y="344.24" width="21.33" height="20.61" fill="rgb(255,166,0)"/>
<rect x="1253.63" y="344.24" width="21.33" height="20.61" fill="rgb(255,77,0)"/>
<rect x="1296.29" y="344.24" width="21.33" height="20.61" fill="rgb(255,51,0)"/>
<rect x="1338.95" y="344.24" width="21.33" height="20.61" fill="rgb(255,250,0)"/>
<rect x="1360.28" y="344.24" width="21.33" height="20.61" fill="rgb(255,77,0)"/>
<rect x="1381.61" y="344.24" width="21.33" height="20.61" fill="rgb(255,25,0)"/>
<rect x="1402.94" y="344.24" width="21.33" height="20.61" fill="rgb(255,115,0)"/>
<rect x="1232.30" y="364.85" width="21.33" height="20.61" fill="rgb(255,140,0)"/>
<rect x="1253.63" y="364.85" width="21.33" height="20.61" fill="rgb(255,115,0)"/>
<rect x="1296.29" y="364.85" width="21.33" height="20.61" fill="rgb(255,115,0)"/>
<rect x="1360.28" y="364.85" width="21.33" height="20.61" fill="rgb(255,115,0)"/>
<rect x="1381.61" y="364.85" width="21.33" height="20.61" fill="rgb(255,128,0)"/>
<rect x="1402.94" y="364.85" width="21.33" height="20.61" fill="rgb(255,115,0)"/>
<rect x="1232.30" y="385.45" width="21.33" height="20.61" fill="rgb(255,166,0)"/>
<rect x="1253.63" y="385.45" width="21.33" height="20.61" fill="rgb(255,64,0)"/>
<rect x="1274.96" y="385.45" width="21.33" height="20.61" fill="rgb(255,250,0)"/>
<rect x="1296.29" y="385.45" width="21.33" height="20.61" fill="rgb(255,64,0)"/>
<rect x="1317.62" y="385.45" width="21.33" height="20.61" fill="rgb(255,250,0)"/>
<rect x="1338.95" y="385.45" width="21.33" height="20.61" fill="rgb(255,250,0)"/>
<rect x="1360.28" y="385.45" width="21.33" height="20.61" fill="rgb(255,64,0)"/>
<rect x="1381.61" y="385.45" width="21.33" height="20.61" fill="rgb(255,38,0)"/>
<rect x="1402.94" y="385.45" width="21.33" height="20.61" fill="rgb(255,128,0)"/>
<rect x="1232.30" y="406.06" width="21.33" height="20.61" fill="rgb(255,13,0)"/>
<rect x="1253.63" y="406.06" width="21.33" height="20.61" fill="rgb(255,0,0)"/>
<rect x="1274.96" y="406.06" width="21.33" height="20.61" fill="rgb(255,250,0)"/>
<rect x="1296.29" y="406.06" width="21.33" height="20.61" fill="rgb(255,0,0)"/>
<rect x="1317.62" y="406.06" width="21.33" height="20.61" fill="rgb(255,250,0)"/>
<rect x="1338.95" y="406.06" width="21.33" height="20.61" fill="rgb(255,250,0)"/>
<rect x="1360.28" y="406.06" width="21.33" height="20.61" fill="rgb(255,0,0)"/>
<rect x="1381.61" y="406.06" width="21.33" height="20.61" fill="rgb(255,0,0)"/>
<rect x="1402.94" y="406.06" width="21.33" height="20.61" fill="rgb(255,140,0)"/>
<rect x="1232.30" y="426.66" width="21.33" height="20.61" fill="rgb(255,153,0)"/>
<rect x="1253.63" y="426.66" width="21.33" height="20.61" fill="rgb(255,128,0)"/>
<rect x="1296.29" y="426.66" width="21.33" height="20.61" fill="rgb(255,128,0)"/>
<rect x="1360.28" y="426.66" width="21.33" height="20.61" fill="rgb(255,128,0)"/>
<rect x="1381.61" y="426.66" width="21.33" height="20.61" fill="rgb(255,178,0)"/>
<rect x="1402.94" y="426.66" width="21.33" height="20.61" fill="rgb(255,140,0)"/>
<rect x="1232.30" y="447.26" width="21.33" height="20.61" fill="rgb(255,191,0)"/>
<rect x="1253.63" y="447.26" width="21.33" height="20.61" fill="rgb(255,0,0)"/>
<rect x="1296.29" y="447.26" width="21.33" height="20.61" fill="rgb(255,38,0)"/>
<rect x="1360.28" y="447.26" width="21.33" height="20.61" fill="rgb(255,0,0)"/>
<rect x="1381.61" y="447.26" width="21.33" height="20.61" fill="rgb(255,64,0)"/>
<rect x="1402.94" y="447.26" width="21.33" height="20.61" fill="rgb(255,153,0)"/>
<rect x="1232.30" y="467.87" width="21.33" height="20.61" fill="rgb(255,128,0)"/>
<rect x="1253.63" y="467.87" width="21.33" height="20.61" fill="rgb(255,140,0)"/>
<rect x="1274.96" y="467.87" width="21.33" height="20.61" fill="rgb(255,250,0)"/>
<rect x="1296.29" y="467.87" width="21.33" height="20.61" fill="rgb(255,166,0)"/>
<rect x="1317.62" y="467.87" width="21.33" height="20.61" fill="rgb(255,191,0)"/>
<rect x="1338.95" y="467.87" width="21.33" height="20.61" fill="rgb(255,250,0)"/>
<rect x="1360.28" y="467.87" width="21.33" height="20.61" fill="rgb(255,140,0)"/>
<rect x="1381.61" y="467.87" width="21.33" height="20.61" fill="rgb(255,166,0)"/>
<rect x="1402.94" y="467.87" width="21.33" height="20.61" fill="rgb(255,166,0)"/>
<rect x="1232.30" y="488.48" width="21.33" height="20.61" fill="rgb(255,191,0)"/>
<rect x="1253.63" y="488.48" width="21.33" height="20.61" fill="rgb(255,102,0)"/>
<rect x="1296.29" y="488.48" width="21.33" height="20.61" fill="rgb(255,102,0)"/>
<rect x="1360.28" y="488.48" width="21.33" height="20.61" fill="rgb(255,102,0)"/>
<rect x="1381.61" y="488.48" width="21.33" height="20.61" fill="rgb(255,128,0)"/>
<rect x="1402.94" y="488.48" width="21.33" height="20.61" fill="rgb(255,166,0)"/>
<rect x="1232.30" y="509.08" width="21.33" height="20.61" fill="rgb(255,191,0)"/>
<rect x="1253.63" y="509.08" width="21.33" height="20.61" fill="rgb(255,102,0)"/>
<rect x="1296.29" y="509.08" width="21.33" height="20.61" fill="rgb(255,102,0)"/>
<rect x="1360.28" y="509.08" width="21.33" height="20.61" fill="rgb(255,102,0)"/>
<rect x="1381.61" y="509.08" width="21.33" height="20.61" fill="rgb(255,128,0)"/>
<rect x="1402.94" y="509.08" width="21.33" height="20.61" fill="rgb(255,166,0)"/>
<rect x="1232.30" y="529.69" width="21.33" height="20.61" fill="rgb(255,217,0)"/>
<rect x="1253.63" y="529.69" width="21.33" height="20.61" fill="rgb(255,140,0)"/>
<rect x="1296.29" y="529.69" width="21.33" height="20.61" fill="rgb(255,153,0)"/>
<rect x="1360.28" y="529.69" width="21.33" height="20.61" fill="rgb(255,140,0)"/>
<rect x="1381.61" y="529.69" width="21.33" height="20.61" fill="rgb(255,191,0)"/>
<rect x="1402.94" y="529.69" width="21.33" height="20.61" fill="rgb(255,166,0)"/>
<rect x="1232.30" y="550.29" width="21.33" height="20.61" fill="rgb(255,140,0)"/>
<rect x="1253.63" y="550.29" width="21.33" height="20.61" fill="rgb(255,51,0)"/>
<rect x="1296.29" y="550.29" width="21.33" height="20.61" fill="rgb(255,128,0)"/>
<rect x="1317.62" y="550.29" width="21.33" height="20.61" fill="rgb(255,250,0)"/>
<rect x="1338.95" y="550.29" width="21.33" height="20.61" fill="rgb(255,250,0)"/>
<rect x="1360.28" y="550.29" width="21.33" height="20.61" fill="rgb(255,51,0)"/>
<rect x="1381.61" y="550.29" width="21.33" height="20.61" fill="rgb(255,38,0)"/>
<rect x="1402.94" y="550.29" width="21.33" height="20.61" fill="rgb(255,166,0)"/>
<rect x="1232.30" y="570.89" width="21.33" height="20.61" fill="rgb(255,128,0)"/>
<rect x="1253.63" y="570.89" width="21.33" height="20.61" fill="rgb(255,166,0)"/>
<rect x="1274.96" y="570.89" width="21.33" height="20.61" fill="rgb(255,250,0)"/>
<rect x="1296.29" y="570.89" width="21.33" height="20.61" fill="rgb(255,178,0)"/>
<rect x="1317.62" y="570.89" width="21.33" height="20.61" fill="rgb(255,250,0)"/>
<rect x="1338.95" y="570.89" width="21.33" height="20.61" fill="rgb(255,250,0)"/>
<rect x="1360.28" y="570.89" width="21.33" height="20.61" fill="rgb(255,166,0)"/>
<rect x="1381.61" y="570.89" width="21.33" height="20.61" fill="rgb(255,153,0)"/>
<rect x="1402.94" y="570.89" width="21.33" height="20.61" fill="rgb(255,178,0)"/>
<rect x="1232.30" y="591.50" width="21.33" height="20.61" fill="rgb(255,191,0)"/>
<rect x="1253.63" y="591.50" width="21.33" height="20.61" fill="rgb(255,38,0)"/>
<rect x="1296.29" y="591.50" width="21.33" height="20.61" fill="rgb(255,64,0)"/>
<rect x="1360.28" y="591.50" width="21.33" height="20.61" fill="rgb(255,38,0)"/>
<rect x="1381.61" y="591.50" width="21.33" height="20.61" fill="rgb(255,89,0)"/>
<rect x="1402.94" y="591.50" width="21.33" height="20.61" fill="rgb(255,178,0)"/>
<rect x="1232.30" y="612.11" width="21.33" height="20.61" fill="rgb(255,242,0)"/>
<rect x="1253.63" y="612.11" width="21.33" height="20.61" fill="rgb(255,178,0)"/>
<rect x="1296.29" y="612.11" width="21.33" height="20.61" fill="rgb(255,178,0)"/>
<rect x="1360.28" y="612.11" width="21.33" height="20.61" fill="rgb(255,178,0)"/>
<rect x="1381.61" y="612.11" width="21.33" height="20.61" fill="rgb(255,178,0)"/>
<rect x="1402.94" y="612.11" width="21.33" height="20.61" fill="rgb(255,178,0)"/>
<rect x="1232.30" y="632.71" width="21.33" height="20.61" fill="rgb(255,166,0)"/>
<rect x="1253.63" y="632.71" width="21.33" height="20.61" fill="rgb(255,166,0)"/>
<rect x="1296.29" y="632.71" width="21.33" height="20.61" fill="rgb(255,166,0)"/>
<rect x="1360.28" y="632.71" width="21.33" height="20.61" fill="rgb(255,166,0)"/>
<rect x="1381.61" y="632.71" width="21.33" height="20.61" fill="rgb(255,178,0)"/>
<rect x="1402.94" y="632.71" width="21.33" height="20.61" fill="rgb(255,191,0)"/>
<rect x="1232.30" y="653.32" width="21.33" height="20.61" fill="rgb(255,247,0)"/>
<rect x="1253.63" y="653.32" width="21.33" height="20.61" fill="rgb(255,217,0)"/>
<rect x="1296.29" y="653.32" width="21.33" height="20.61" fill="rgb(255,217,0)"/>
<rect x="1360.28" y="653.32" width="21.33" height="20.61" fill="rgb(255,217,0)"/>
<rect x="1381.61" y="653.32" width="21.33" height="20.61" fill="rgb(255,242,0)"/>
<rect x="1402.94" y="653.32" width="21.33" height="20.61" fill="rgb(255,217,0)"/>
<rect x="1232.30" y="673.92" width="21.33" height="20.61" fill="rgb(255,178,0)"/>
<rect x="1253.63" y="673.92" width="21.33" height="20.61" fill="rgb(255,178,0)"/>
<rect x="1296.29" y="673.92" width="21.33" height="20.61" fill="rgb(255,178,0)"/>
<rect x="1360.28" y="673.92" width="21.33" height="20.61" fill="rgb(255,191,0)"/>
<rect x="1381.61" y="673.92" width="21.33" height="20.61" fill="rgb(255,204,0)"/>
<rect x="1402.94" y="673.92" width="21.33" height="20.61" fill="rgb(255,217,0)"/>
<rect x="1232.30" y="694.52" width="21.33" height="20.61" fill="rgb(255,247,0)"/>
<rect x="1253.63" y="694.52" width="21.33" height="20.61" fill="rgb(255,217,0)"/>
<rect x="1296.29" y="694.52" width="21.33" height="20.61" fill="rgb(255,242,0)"/>
<rect x="1360.28" y="694.52" width="21.33" height="20.61" fill="rgb(255,217,0)"/>
<rect x="1381.61" y="694.52" width="21.33" height="20.61" fill="rgb(255,247,0)"/>
<rect x="1402.94" y="694.52" width="21.33" height="20.61" fill="rgb(255,217,0)"/>
<rect x="1232.30" y="715.13" width="21.33" height="20.61" fill="rgb(255,250,0)"/>
<rect x="1253.63" y="715.13" width="21.33" height="20.61" fill="rgb(255,242,0)"/>
<rect x="1296.29" y="715.13" width="21.33" height="20.61" fill="rgb(255,247,0)"/>
<rect x="1360.28" y="715.13" width="21.33" height="20.61" fill="rgb(255,242,0)"/>
<rect x="1381.61" y="715.13" width="21.33" height="20.61" fill="rgb(255,247,0)"/>
<rect x="1402.94" y="715.13" width="21.33" height="20.61" fill="rgb(255,217,0)"/>
<rect x="1232.30" y="735.74" width="21.33" height="20.61" fill="rgb(255,140,0)"/>
<rect x="1253.63" y="735.74" width="21.33" height="20.61" fill="rgb(255,217,0)"/>
<rect x="1274.96" y="735.74" width="21.33" height="20.61" fill="rgb(255,242,0)"/>
<rect x="1296.29" y="735.74" width="21.33" height="20.61" fill="rgb(255,204,0)"/>
<rect x="1317.62" y="735.74" width="21.33" height="20.61" fill="rgb(255,217,0)"/>
<rect x="1338.95" y="735.74" width="21.33" height="20.61" fill="rgb(255,250,0)"/>
<rect x="1360.28" y="735.74" width="21.33" height="20.61" fill="rgb(255,230,0)"/>
<rect x="1381.61" y="735.74" width="21.33" height="20.61" fill="rgb(255,242,0)"/>
<rect x="1402.94" y="735.74" width="21.33" height="20.61" fill="rgb(255,217,0)"/>
<rect x="1381.61" y="756.34" width="21.33" height="20.61" fill="rgb(255,242,0)"/>
<rect x="1402.94" y="756.34" width="21.33" height="20.61" fill="rgb(255,230,0)"/>
<rect x="1232.30" y="776.94" width="21.33" height="20.61" fill="rgb(255,247,0)"/>
<rect x="1253.63" y="776.94" width="21.33" height="20.61" fill="rgb(255,191,0)"/>
<rect x="1296.29" y="776.94" width="21.33" height="20.61" fill="rgb(255,191,0)"/>
<rect x="1360.28" y="776.94" width="21.33" height="20.61" fill="rgb(255,204,0)"/>
<rect x="1381.61" y="776.94" width="21.33" height="20.61" fill="rgb(255,204,0)"/>
<rect x="1402.94" y="776.94" width="21.33" height="20.61" fill="rgb(255,242,0)"/>
<rect x="1232.30" y="797.55" width="21.33" height="20.61" fill="rgb(255,235,0)"/>
<rect x="1253.63" y="797.55" width="21.33" height="20.61" fill="rgb(255,250,0)"/>
<rect x="1360.28" y="797.55" width="21.33" height="20.61" fill="rgb(255,250,0)"/>
<rect x="1381.61" y="797.55" width="21.33" height="20.61" fill="rgb(255,250,0)"/>
<rect x="1402.94" y="797.55" width="21.33" height="20.61" fill="rgb(255,250,0)"/>
<rect x="1253.63" y="818.15" width="21.33" height="20.61" fill="rgb(255,191,0)"/>
<rect x="1296.29" y="818.15" width="21.33" height="20.61" fill="rgb(255,204,0)"/>
<rect x="1360.28" y="818.15" width="21.33" height="20.61" fill="rgb(255,191,0)"/>
<rect x="1381.61" y="818.15" width="21.33" height="20.61" fill="rgb(255,230,0)"/>
<rect x="1402.94" y="818.15" width="21.33" height="20.61" fill="rgb(255,247,0)"/>
<rect x="1232.30" y="838.76" width="21.33" height="20.61" fill="rgb(255,250,0)"/>
<rect x="1253.63" y="838.76" width="21.33" height="20.61" fill="rgb(255,250,0)"/>
<rect x="1296.29" y="838.76" width="21.33" height="20.61" fill="rgb(255,250,0)"/>
<rect x="1338.95" y="838.76" width="21.33" height="20.61" fill="rgb(255,250,0)"/>
<rect x="1360.28" y="838.76" width="21.33" height="20.61" fill="rgb(255,250,0)"/>
<rect x="1381.61" y="838.76" width="21.33" height="20.61" fill="rgb(255,250,0)"/>
<rect x="1402.94" y="838.76" width="21.33" height="20.61" fill="rgb(255,250,0)"/>
<rect x="1232.30" y="859.37" width="21.33" height="20.61" fill="rgb(255,250,0)"/>
<rect x="1253.63" y="859.37" width="21.33" height="20.61" fill="rgb(255,140,0)"/>
<rect x="1296.29" y="859.37" width="21.33" height="20.61" fill="rgb(255,166,0)"/>
<rect x="1360.28" y="859.37" width="21.33" height="20.61" fill="rgb(255,140,0)"/>
<rect x="1381.61" y="859.37" width="21.33" height="20.61" fill="rgb(255,166,0)"/>
<rect x="1402.94" y="859.37" width="21.33" height="20.61" fill="rgb(255,250,0)"/>
<rect x="1232.30" y="879.97" width="21.33" height="20.61" fill="rgb(255,250,0)"/>
<rect x="1253.63" y="879.97" width="21.33" height="20.61" fill="rgb(255,247,0)"/>
<rect x="1296.29" y="879.97" width="21.33" height="20.61" fill="rgb(255,247,0)"/>
<rect x="1360.28" y="879.97" width="21.33" height="20.61" fill="rgb(255,247,0)"/>
<rect x="1381.61" y="879.97" width="21.33" height="20.61" fill="rgb(255,235,0)"/>
<rect x="1402.94" y="879.97" width="21.33" height="20.61" fill="rgb(255,250,0)"/>
<rect x="1232.30" y="900.58" width="21.33" height="20.61" fill="rgb(255,250,0)"/>
<rect x="1253.63" y="900.58" width="21.33" height="20.61" fill="rgb(255,250,0)"/>
<rect x="1296.29" y="900.58" width="21.33" height="20.61" fill="rgb(255,250,0)"/>
<rect x="1338.95" y="900.58" width="21.33" height="20.61" fill="rgb(255,250,0)"/>
<rect x="1360.28" y="900.58" width="21.33" height="20.61" fill="rgb(255,250,0)"/>
<rect x="1381.61" y="900.58" width="21.33" height="20.61" fill="rgb(255,250,0)"/>
<rect x="1402.94" y="900.58" width="21.33" height="20.61" fill="rgb(255,250,0)"/>
<rect x="1232.30" y="921.18" width="21.33" height="20.61" fill="rgb(255,230,0)"/>
<rect x="1253.63" y="921.18" width="21.33" height="20.61" fill="rgb(255,250,0)"/>
<rect x="1274.96" y="921.18" width="21.33" height="20.61" fill="rgb(255,250,0)"/>
<rect x="1296.29" y="921.18" width="21.33" height="20.61" fill="rgb(255,250,0)"/>
<rect x="1317.62" y="921.18" width="21.33" height="20.61" fill="rgb(255,250,0)"/>
<rect x="1338.95" y="921.18" width="21.33" height="20.61" fill="rgb(255,250,0)"/>
<rect x="1360.28" y="921.18" width="21.33" height="20.61" fill="rgb(255,250,0)"/>
<rect x="1381.61" y="921.18" width="21.33" height="20.61" fill="rgb(255,250,0)"/>
<rect x="1402.94" y="921.18" width="21.33" height="20.61" fill="rgb(255,250,0)"/>
<rect x="1232.30" y="941.78" width="21.33" height="20.61" fill="rgb(255,250,0)"/>
<rect x="1253.63" y="941.78" width="21.33" height="20.61" fill="rgb(255,250,0)"/>
<rect x="1296.29" y="941.78" width="21.33" height="20.61" fill="rgb(255,250,0)"/>
<rect x="1338.95" y="941.78" width="21.33" height="20.61" fill="rgb(255,250,0)"/>
<rect x="1360.28" y="941.78" width="21.33" height="20.61" fill="rgb(255,250,0)"/>
<rect x="1381.61" y="941.78" width="21.33" height="20.61" fill="rgb(255,250,0)"/>
<rect x="1402.94" y="941.78" width="21.33" height="20.61" fill="rgb(255,250,0)"/>
<rect x="1232.30" y="962.39" width="21.33" height="20.61" fill="rgb(255,250,0)"/>
<rect x="1253.63" y="962.39" width="21.33" height="20.61" fill="rgb(255,250,0)"/>
<rect x="1296.29" y="962.39" width="21.33" height="20.61" fill="rgb(255,250,0)"/>
<rect x="1338.95" y="962.39" width="21.33" height="20.61" fill="rgb(255,250,0)"/>
<rect x="1360.28" y="962.39" width="21.33" height="20.61" fill="rgb(255,250,0)"/>
<rect x="1381.61" y="962.39" width="21.33" height="20.61" fill="rgb(255,250,0)"/>
<rect x="1402.94" y="962.39" width="21.33" height="20.61" fill="rgb(255,250,0)"/>
<rect x="1232.30" y="983.00" width="21.33" height="20.61" fill="rgb(255,250,0)"/>
<rect x="1253.63" y="983.00" width="21.33" height="20.61" fill="rgb(255,250,0)"/>
<rect x="1296.29" y="983.00" width="21.33" height="20.61" fill="rgb(255,250,0)"/>
<rect x="1338.95" y="983.00" width="21.33" height="20.61" fill="rgb(255,250,0)"/>
<rect x="1360.28" y="983.00" width="21.33" height="20.61" fill="rgb(255,250,0)"/>
<rect x="1381.61" y="983.00" width="21.33" height="20.61" fill="rgb(255,250,0)"/>
<rect x="1402.94" y="983.00" width="21.33" height="20.61" fill="rgb(255,250,0)"/>
<rect x="1253.63" y="1003.60" width="21.33" height="20.61" fill="rgb(255,217,0)"/>
<rect x="1296.29" y="1003.60" width="21.33" height="20.61" fill="rgb(255,242,0)"/>
<rect x="1360.28" y="1003.60" width="21.33" height="20.61" fill="rgb(255,217,0)"/>
<rect x="1232.30" y="1024.21" width="21.33" height="20.61" fill="rgb(255,235,0)"/>
<rect x="1253.63" y="1024.21" width="21.33" height="20.61" fill="rgb(255,250,0)"/>
<rect x="1296.29" y="1024.21" width="21.33" height="20.61" fill="rgb(255,250,0)"/>
<rect x="1338.95" y="1024.21" width="21.33" height="20.61" fill="rgb(255,250,0)"/>
<rect x="1360.28" y="1024.21" width="21.33" height="20.61" fill="rgb(255,250,0)"/>
<rect x="1232.30" y="1044.81" width="21.33" height="20.61" fill="rgb(255,235,0)"/>
<rect x="1338.95" y="1044.81" width="21.33" height="20.61" fill="rgb(255,250,0)"/>
<rect x="1232.30" y="1065.41" width="21.33" height="20.61" fill="rgb(255,250,0)"/>
<rect x="1274.96" y="1065.41" width="21.33" height="20.61" fill="rgb(255,230,0)"/>
<rect x="1317.62" y="1065.41" width="21.33" height="20.61" fill="rgb(255,230,0)"/>
<rect x="1232.30" y="1086.02" width="21.33" height="20.61" fill="rgb(255,135,0)"/>
<rect x="1232.30" y="1106.62" width="21.33" height="20.61" fill="rgb(255,224,0)"/>
<rect x="1232.30" y="1127.23" width="21.33" height="20.61" fill="rgb(255,230,0)"/>
<rect x="1232.30" y="1147.84" width="21.33" height="20.61" fill="rgb(255,250,0)"/>
<rect x="1232.30" y="1168.44" width="21.33" height="20.61" fill="rgb(255,250,0)"/>
<rect x="1232.30" y="1189.05" width="21.33" height="20.61" fill="rgb(255,250,0)"/>
<path d="M1232.30 179.40H1424.27M1232.30 200.00H1424.27M1232.30 220.61H1424.27M1232.30 241.22H1424.27M1232.30 261.82H1424.27M1232.30 282.43H1424.27M1232.30 303.03H1424.27M1232.30 323.63H1424.27M1232.30 344.24H1424.27M1232.30 364.85H1424.27M1232.30 385.45H1424.27M1232.30 406.06H1424.27M1232.30 426.66H1424.27M1232.30 447.26H1424.27M1232.30 467.87H1424.27M1232.30 488.48H1424.27M1232.30 509.08H1424.27M1232.30 529.69H1424.27M1232.30 550.29H1424.27M1232.30 570.89H1424.27M1232.30 591.50H1424.27M1232.30 612.11H1424.27M1232.30 632.71H1424.27M1232.30 653.32H1424.27M1232.30 673.92H1424.27M1232.30 694.52H1424.27M1232.30 715.13H1424.27M1232.30 735.74H1424.27M1232.30 756.34H1424.27M1232.30 776.94H1424.27M1232.30 797.55H1424.27M1232.30 818.15H1424.27M1232.30 838.76H1424.27M1232.30 859.37H1424.27M1232.30 879.97H1424.27M1232.30 900.58H1424.27M1232.30 921.18H1424.27M1232.30 941.78H1424.27M1232.30 962.39H1424.27M1232.30 983.00H1424.27M1232.30 1003.60H1424.27M1232.30 1024.21H1424.27M1232.30 1044.81H1424.27M1232.30 1065.41H1424.27M1232.30 1086.02H1424.27M1232.30 1106.62H1424.27M1232.30 1127.23H1424.27M1232.30 1147.84H1424.27M1232.30 1168.44H1424.27M1232.30 1189.05H1424.27M1232.30 1209.65H1424.27M1232.30 179.40V1209.65M1253.63 179.40V1209.65M1274.96 179.40V1209.65M1296.29 179.40V1209.65M1317.62 179.40V1209.65M1338.95 179.40V1209.65M1360.28 179.40V1209.65M1381.61 179.40V1209.65M1402.94 179.40V1209.65M1424.27 179.40V1209.65" stroke="#707070" stroke-width="1.4" fill="none"/>
<path d="M1232.30 179.40h21.33v20.61h-21.33zM1253.63 179.40h21.33v20.61h-21.33zM1274.96 179.40h21.33v20.61h-21.33zM1296.29 179.40h21.33v20.61h-21.33zM1317.62 179.40h21.33v20.61h-21.33zM1338.95 179.40h21.33v20.61h-21.33zM1360.28 179.40h21.33v20.61h-21.33zM1381.61 179.40h21.33v20.61h-21.33zM1402.94 179.40h21.33v20.61h-21.33zM1232.30 200.00h21.33v20.61h-21.33zM1253.63 200.00h21.33v20.61h-21.33zM1296.29 200.00h21.33v20.61h-21.33zM1360.28 200.00h21.33v20.61h-21.33zM1381.61 200.00h21.33v20.61h-21.33zM1402.94 200.00h21.33v20.61h-21.33zM1232.30 220.61h21.33v20.61h-21.33zM1253.63 220.61h21.33v20.61h-21.33zM1296.29 220.61h21.33v20.61h-21.33zM1360.28 220.61h21.33v20.61h-21.33zM1381.61 220.61h21.33v20.61h-21.33zM1402.94 220.61h21.33v20.61h-21.33zM1232.30 241.22h21.33v20.61h-21.33zM1253.63 241.22h21.33v20.61h-21.33zM1274.96 241.22h21.33v20.61h-21.33zM1296.29 241.22h21.33v20.61h-21.33zM1317.62 241.22h21.33v20.61h-21.33zM1338.95 241.22h21.33v20.61h-21.33zM1360.28 241.22h21.33v20.61h-21.33zM1381.61 241.22h21.33v20.61h-21.33zM1402.94 241.22h21.33v20.61h-21.33zM1232.30 261.82h21.33v20.61h-21.33zM1402.94 261.82h21.33v20.61h-21.33zM1232.30 282.43h21.33v20.61h-21.33zM1381.61 282.43h21.33v20.61h-21.33zM1402.94 282.43h21.33v20.61h-21.33zM1232.30 303.03h21.33v20.61h-21.33zM1253.63 303.03h21.33v20.61h-21.33zM1296.29 303.03h21.33v20.61h-21.33zM1360.28 303.03h21.33v20.61h-21.33zM1381.61 303.03h21.33v20.61h-21.33zM1402.94 303.03h21.33v20.61h-21.33zM1232.30 323.63h21.33v20.61h-21.33zM1253.63 323.63h21.33v20.61h-21.33zM1296.29 323.63h21.33v20.61h-21.33zM1360.28 323.63h21.33v20.61h-21.33zM1381.61 323.63h21.33v20.61h-21.33zM1402.94 323.63h21.33v20.61h-21.33zM1232.30 344.24h21.33v20.61h-21.33zM1253.63 344.24h21.33v20.61h-21.33zM1296.29 344.24h21.33v20.61h-21.33zM1338.95 344.24h21.33v20.61h-21.33zM1360.28 344.24h21.33v20.61h-21.33zM1381.61 344.24h21.33v20.61h-21.33zM1402.94 344.24h21.33v20.61h-21.33zM1232.30 364.85h21.33v20.61h-21.33zM1253.63 364.85h21.33v20.61h-21.33zM1296.29 364.85h21.33v20.61h-21.33zM1360.28 364.85h21.33v20.61h-21.33zM1381.61 364.85h21.33v20.61h-21.33zM1402.94 364.85h21.33v20.61h-21.33zM1232.30 385.45h21.33v20.61h-21.33zM1253.63 385.45h21.33v20.61h-21.33zM1274.96 385.45h21.33v20.61h-21.33zM1296.29 385.45h21.33v20.61h-21.33zM1317.62 385.45h21.33v20.61h-21.33zM1338.95 385.45h21.33v20.61h-21.33zM1360.28 385.45h21.33v20.61h-21.33zM1381.61 385.45h21.33v20.61h-21.33zM1402.94 385.45h21.33v20.61h-21.33zM1232.30 406.06h21.33v20.61h-21.33zM1253.63 406.06h21.33v20.61h-21.33zM1274.96 406.06h21.33v20.61h-21.33zM1296.29 406.06h21.33v20.61h-21.33zM1317.62 406.06h21.33v20.61h-21.33zM1338.95 406.06h21.33v20.61h-21.33zM1360.28 406.06h21.33v20.61h-21.33zM1381.61 406.06h21.33v20.61h-21.33zM1402.94 406.06h21.33v20.61h-21.33zM1232.30 426.66h21.33v20.61h-21.33zM1253.63 426.66h21.33v20.61h-21.33zM1296.29 426.66h21.33v20.61h-21.33zM1360.28 426.66h21.33v20.61h-21.33zM1381.61 426.66h21.33v20.61h-21.33zM1402.94 426.66h21.33v20.61h-21.33zM1232.30 447.26h21.33v20.61h-21.33zM1253.63 447.26h21.33v20.61h-21.33zM1296.29 447.26h21.33v20.61h-21.33zM1360.28 447.26h21.33v20.61h-21.33zM1381.61 447.26h21.33v20.61h-21.33zM1402.94 447.26h21.33v20.61h-21.33zM1232.30 467.87h21.33v20.61h-21.33zM1253.63 467.87h21.33v20.61h-21.33zM1274.96 467.87h21.33v20.61h-21.33zM1296.29 467.87h21.33v20.61h-21.33zM1317.62 467.87h21.33v20.61h-21.33zM1338.95 467.87h21.33v20.61h-21.33zM1360.28 467.87h21.33v20.61h-21.33zM1381.61 467.87h21.33v20.61h-21.33zM1402.94 467.87h21.33v20.61h-21.33zM1232.30 488.48h21.33v20.61h-21.33zM1253.63 488.48h21.33v20.61h-21.33zM1296.29 488.48h21.33v20.61h-21.33zM1360.28 488.48h21.33v20.61h-21.33zM1381.61 488.48h21.33v20.61h-21.33zM1402.94 488.48h21.33v20.61h-21.33zM1232.30 509.08h21.33v20.61h-21.33zM1253.63 509.08h21.33v20.61h-21.33zM1296.29 509.08h21.33v20.61h-21.33zM1360.28 509.08h21.33v20.61h-21.33zM1381.61 509.08h21.33v20.61h-21.33zM1402.94 509.08h21.33v20.61h-21.33zM1232.30 529.69h21.33v20.61h-21.33zM1253.63 529.69h21.33v20.61h-21.33zM1296.29 529.69h21.33v20.61h-21.33zM1360.28 529.69h21.33v20.61h-21.33zM1381.61 529.69h21.33v20.61h-21.33zM1402.94 529.69h21.33v20.61h-21.33zM1232.30 550.29h21.33v20.61h-21.33zM1253.63 550.29h21.33v20.61h-21.33zM1296.29 550.29h21.33v20.61h-21.33zM1317.62 550.29h21.33v20.61h-21.33zM1338.95 550.29h21.33v20.61h-21.33zM1360.28 550.29h21.33v20.61h-21.33zM1381.61 550.29h21.33v20.61h-21.33zM1402.94 550.29h21.33v20.61h-21.33zM1232.30 570.89h21.33v20.61h-21.33zM1253.63 570.89h21.33v20.61h-21.33zM1274.96 570.89h21.33v20.61h-21.33zM1296.29 570.89h21.33v20.61h-21.33zM1317.62 570.89h21.33v20.61h-21.33zM1338.95 570.89h21.33v20.61h-21.33zM1360.28 570.89h21.33v20.61h-21.33zM1381.61 570.89h21.33v20.61h-21.33zM1402.94 570.89h21.33v20.61h-21.33zM1232.30 591.50h21.33v20.61h-21.33zM1253.63 591.50h21.33v20.61h-21.33zM1296.29 591.50h21.33v20.61h-21.33zM1360.28 591.50h21.33v20.61h-21.33zM1381.61 591.50h21.33v20.61h-21.33zM1402.94 591.50h21.33v20.61h-21.33zM1232.30 612.11h21.33v20.61h-21.33zM1253.63 612.11h21.33v20.61h-21.33zM1296.29 612.11h21.33v20.61h-21.33zM1360.28 612.11h21.33v20.61h-21.33zM1381.61 612.11h21.33v20.61h-21.33zM1402.94 612.11h21.33v20.61h-21.33zM1232.30 632.71h21.33v20.61h-21.33zM1253.63 632.71h21.33v20.61h-21.33zM1296.29 632.71h21.33v20.61h-21.33zM1360.28 632.71h21.33v20.61h-21.33zM1381.61 632.71h21.33v20.61h-21.33zM1402.94 632.71h21.33v20.61h-21.33zM1232.30 653.32h21.33v20.61h-21.33zM1253.63 653.32h21.33v20.61h-21.33zM1296.29 653.32h21.33v20.61h-21.33zM1360.28 653.32h21.33v20.61h-21.33zM1381.61 653.32h21.33v20.61h-21.33zM1402.94 653.32h21.33v20.61h-21.33zM1232.30 673.92h21.33v20.61h-21.33zM1253.63 673.92h21.33v20.61h-21.33zM1296.29 673.92h21.33v20.61h-21.33zM1360.28 673.92h21.33v20.61h-21.33zM1381.61 673.92h21.33v20.61h-21.33zM1402.94 673.92h21.33v20.61h-21.33zM1232.30 694.52h21.33v20.61h-21.33zM1253.63 694.52h21.33v20.61h-21.33zM1296.29 694.52h21.33v20.61h-21.33zM1360.28 694.52h21.33v20.61h-21.33zM1381.61 694.52h21.33v20.61h-21.33zM1402.94 694.52h21.33v20.61h-21.33zM1232.30 715.13h21.33v20.61h-21.33zM1253.63 715.13h21.33v20.61h-21.33zM1296.29 715.13h21.33v20.61h-21.33zM1360.28 715.13h21.33v20.61h-21.33zM1381.61 715.13h21.33v20.61h-21.33zM1402.94 715.13h21.33v20.61h-21.33zM1232.30 735.74h21.33v20.61h-21.33zM1253.63 735.74h21.33v20.61h-21.33zM1274.96 735.74h21.33v20.61h-21.33zM1296.29 735.74h21.33v20.61h-21.33zM1317.62 735.74h21.33v20.61h-21.33zM1338.95 735.74h21.33v20.61h-21.33zM1360.28 735.74h21.33v20.61h-21.33zM1381.61 735.74h21.33v20.61h-21.33zM1402.94 735.74h21.33v20.61h-21.33zM1381.61 756.34h21.33v20.61h-21.33zM1402.94 756.34h21.33v20.61h-21.33zM1232.30 776.94h21.33v20.61h-21.33zM1253.63 776.94h21.33v20.61h-21.33zM1296.29 776.94h21.33v20.61h-21.33zM1360.28 776.94h21.33v20.61h-21.33zM1381.61 776.94h21.33v20.61h-21.33zM1402.94 776.94h21.33v20.61h-21.33zM1232.30 797.55h21.33v20.61h-21.33zM1253.63 797.55h21.33v20.61h-21.33zM1360.28 797.55h21.33v20.61h-21.33zM1381.61 797.55h21.33v20.61h-21.33zM1402.94 797.55h21.33v20.61h-21.33zM1253.63 818.15h21.33v20.61h-21.33zM1296.29 818.15h21.33v20.61h-21.33zM1360.28 818.15h21.33v20.61h-21.33zM1381.61 818.15h21.33v20.61h-21.33zM1402.94 818.15h21.33v20.61h-21.33zM1232.30 838.76h21.33v20.61h-21.33zM1253.63 838.76h21.33v20.61h-21.33zM1296.29 838.76h21.33v20.61h-21.33zM1338.95 838.76h21.33v20.61h-21.33zM1360.28 838.76h21.33v20.61h-21.33zM1381.61 838.76h21.33v20.61h-21.33zM1402.94 838.76h21.33v20.61h-21.33zM1232.30 859.37h21.33v20.61h-21.33zM1253.63 859.37h21.33v20.61h-21.33zM1296.29 859.37h21.33v20.61h-21.33zM1360.28 859.37h21.33v20.61h-21.33zM1381.61 859.37h21.33v20.61h-21.33zM1402.94 859.37h21.33v20.61h-21.33zM1232.30 879.97h21.33v20.61h-21.33zM1253.63 879.97h21.33v20.61h-21.33zM1296.29 879.97h21.33v20.61h-21.33zM1360.28 879.97h21.33v20.61h-21.33zM1381.61 879.97h21.33v20.61h-21.33zM1402.94 879.97h21.33v20.61h-21.33zM1232.30 900.58h21.33v20.61h-21.33zM1253.63 900.58h21.33v20.61h-21.33zM1296.29 900.58h21.33v20.61h-21.33zM1338.95 900.58h21.33v20.61h-21.33zM1360.28 900.58h21.33v20.61h-21.33zM1381.61 900.58h21.33v20.61h-21.33zM1402.94 900.58h21.33v20.61h-21.33zM1232.30 921.18h21.33v20.61h-21.33zM1253.63 921.18h21.33v20.61h-21.33zM1274.96 921.18h21.33v20.61h-21.33zM1296.29 921.18h21.33v20.61h-21.33zM1317.62 921.18h21.33v20.61h-21.33zM1338.95 921.18h21.33v20.61h-21.33zM1360.28 921.18h21.33v20.61h-21.33zM1381.61 921.18h21.33v20.61h-21.33zM1402.94 921.18h21.33v20.61h-21.33zM1232.30 941.78h21.33v20.61h-21.33zM1253.63 941.78h21.33v20.61h-21.33zM1296.29 941.78h21.33v20.61h-21.33zM1338.95 941.78h21.33v20.61h-21.33zM1360.28 941.78h21.33v20.61h-21.33zM1381.61 941.78h21.33v20.61h-21.33zM1402.94 941.78h21.33v20.61h-21.33zM1232.30 962.39h21.33v20.61h-21.33zM1253.63 962.39h21.33v20.61h-21.33zM1296.29 962.39h21.33v20.61h-21.33zM1338.95 962.39h21.33v20.61h-21.33zM1360.28 962.39h21.33v20.61h-21.33zM1381.61 962.39h21.33v20.61h-21.33zM1402.94 962.39h21.33v20.61h-21.33zM1232.30 983.00h21.33v20.61h-21.33zM1253.63 983.00h21.33v20.61h-21.33zM1296.29 983.00h21.33v20.61h-21.33zM1338.95 983.00h21.33v20.61h-21.33zM1360.28 983.00h21.33v20.61h-21.33zM1381.61 983.00h21.33v20.61h-21.33zM1402.94 983.00h21.33v20.61h-21.33zM1253.63 1003.60h21.33v20.61h-21.33zM1296.29 1003.60h21.33v20.61h-21.33zM1360.28 1003.60h21.33v20.61h-21.33zM1232.30 1024.21h21.33v20.61h-21.33zM1253.63 1024.21h21.33v20.61h-21.33zM1296.29 1024.21h21.33v20.61h-21.33zM1338.95 1024.21h21.33v20.61h-21.33zM1360.28 1024.21h21.33v20.61h-21.33zM1232.30 1044.81h21.33v20.61h-21.33zM1338.95 1044.81h21.33v20.61h-21.33zM1232.30 1065.41h21.33v20.61h-21.33zM1274.96 1065.41h21.33v20.61h-21.33zM1317.62 1065.41h21.33v20.61h-21.33zM1232.30 1086.02h21.33v20.61h-21.33zM1232.30 1106.62h21.33v20.61h-21.33zM1232.30 1127.23h21.33v20.61h-21.33zM1232.30 1147.84h21.33v20.61h-21.33zM1232.30 1168.44h21.33v20.61h-21.33zM1232.30 1189.05h21.33v20.61h-21.33z" stroke="#3a1808" stroke-width="1.4" fill="none"/>
<text x="287.50" y="1281.00" font-size="30" textLength="80.42" lengthAdjust="spacing" font-style="italic" stroke="#000" stroke-width="0.45">Trans</text>
<text x="367.92" y="1281.00" font-size="30" textLength="124.27" lengthAdjust="spacing" stroke="#000" stroke-width="0.45">-function</text>
<line x1="93.50" y1="1297.80" x2="711.50" y2="1297.80" stroke="#000" stroke-width="3.7" stroke-linecap="round"/>
<text x="1024.50" y="1280.60" font-size="30" textLength="45.71" lengthAdjust="spacing" font-style="italic" stroke="#000" stroke-width="0.45">Cis</text>
<text x="1070.21" y="1280.60" font-size="30" textLength="121.40" lengthAdjust="spacing" stroke="#000" stroke-width="0.45">-function</text>
<line x1="778.20" y1="1297.10" x2="1397.00" y2="1297.10" stroke="#000" stroke-width="3.6" stroke-linecap="round"/>
<text x="158.98" y="1340.00" font-size="24.5" textLength="124.44" lengthAdjust="spacing" stroke="#000" stroke-width="0.45">Bra037181</text>
<rect x="100.15" y="1475.44" width="14.90" height="59.16" fill="#DEEBF7" stroke="#1a1a1a" stroke-width="1.3"/>
<rect x="118.95" y="1492.84" width="14.90" height="41.76" fill="#9DC3E6" stroke="#1a1a1a" stroke-width="1.3"/>
<rect x="137.15" y="1457.50" width="14.90" height="77.10" fill="#00B0F0" stroke="#1a1a1a" stroke-width="1.3"/>
<rect x="155.15" y="1437.38" width="14.90" height="97.22" fill="#0070C0" stroke="#1a1a1a" stroke-width="1.3"/>
<rect x="201.15" y="1402.04" width="14.90" height="132.56" fill="#E2F0D9" stroke="#1a1a1a" stroke-width="1.3"/>
<rect x="219.65" y="1403.67" width="14.90" height="130.93" fill="#C5E0B4" stroke="#1a1a1a" stroke-width="1.3"/>
<rect x="237.95" y="1465.65" width="14.90" height="68.95" fill="#92D050" stroke="#1a1a1a" stroke-width="1.3"/>
<rect x="256.45" y="1430.86" width="14.90" height="103.74" fill="#00B050" stroke="#1a1a1a" stroke-width="1.3"/>
<rect x="301.65" y="1458.04" width="14.90" height="76.56" fill="#FFD5D5" stroke="#1a1a1a" stroke-width="1.3"/>
<rect x="320.65" y="1430.86" width="14.90" height="103.74" fill="#FF9F9F" stroke="#1a1a1a" stroke-width="1.3"/>
<rect x="338.65" y="1412.91" width="14.90" height="121.69" fill="#FF3333" stroke="#1a1a1a" stroke-width="1.3"/>
<rect x="357.05" y="1476.53" width="14.90" height="58.07" fill="#C00000" stroke="#1a1a1a" stroke-width="1.3"/>
<path d="M107.60 1485.12V1463.92M105.00 1463.92h5.2M105.00 1485.12h5.2" stroke="#1a1a1a" stroke-width="1.4" fill="none"/>
<path d="M126.40 1501.98V1481.32M123.80 1481.32h5.2M123.80 1501.98h5.2" stroke="#1a1a1a" stroke-width="1.4" fill="none"/>
<path d="M144.60 1472.62V1441.08M142.00 1441.08h5.2M142.00 1472.62h5.2" stroke="#1a1a1a" stroke-width="1.4" fill="none"/>
<path d="M162.60 1456.85V1416.61M160.00 1416.61h5.2M160.00 1456.85h5.2" stroke="#1a1a1a" stroke-width="1.4" fill="none"/>
<path d="M208.60 1419.33V1383.45M206.00 1383.45h5.2M206.00 1419.33h5.2" stroke="#1a1a1a" stroke-width="1.4" fill="none"/>
<path d="M227.10 1437.82V1368.77M224.50 1368.77h5.2M224.50 1437.82h5.2" stroke="#1a1a1a" stroke-width="1.4" fill="none"/>
<path d="M245.40 1467.18V1463.37M242.80 1463.37h5.2M242.80 1467.18h5.2" stroke="#1a1a1a" stroke-width="1.4" fill="none"/>
<path d="M263.90 1457.39V1403.02M261.30 1403.02h5.2M261.30 1457.39h5.2" stroke="#1a1a1a" stroke-width="1.4" fill="none"/>
<path d="M309.10 1466.64V1447.61M306.50 1447.61h5.2M306.50 1466.64h5.2" stroke="#1a1a1a" stroke-width="1.4" fill="none"/>
<path d="M328.10 1438.91V1422.59M325.50 1422.59h5.2M325.50 1438.91h5.2" stroke="#1a1a1a" stroke-width="1.4" fill="none"/>
<path d="M346.10 1430.21V1394.32M343.50 1394.32h5.2M343.50 1430.21h5.2" stroke="#1a1a1a" stroke-width="1.4" fill="none"/>
<path d="M364.50 1477.51V1474.25M361.90 1474.25h5.2M361.90 1477.51h5.2" stroke="#1a1a1a" stroke-width="1.4" fill="none"/>
<path d="M79.80 1344.30H84.80V1534.60H388.40M79.80 1534.60H84.80M79.80 1507.41H84.80M79.80 1480.23H84.80M79.80 1453.04H84.80M79.80 1425.86H84.80M79.80 1398.67H84.80M79.80 1371.49H84.80M186.00 1534.60v4M286.00 1534.60v4M387.40 1534.60v4M84.80 1534.60v3.5" stroke="#000" stroke-width="2.8" fill="none" stroke-linecap="butt" stroke-linejoin="round"/>
<text x="65.17" y="1539.00" font-size="16" textLength="7.83" lengthAdjust="spacingAndGlyphs" fill="#3a3a3a">0</text>
<text x="53.43" y="1511.81" font-size="16" textLength="19.57" lengthAdjust="spacingAndGlyphs" fill="#3a3a3a">0.5</text>
<text x="65.17" y="1484.63" font-size="16" textLength="7.83" lengthAdjust="spacingAndGlyphs" fill="#3a3a3a">1</text>
<text x="53.43" y="1457.44" font-size="16" textLength="19.57" lengthAdjust="spacingAndGlyphs" fill="#3a3a3a">1.5</text>
<text x="65.17" y="1430.26" font-size="16" textLength="7.83" lengthAdjust="spacingAndGlyphs" fill="#3a3a3a">2</text>
<text x="53.43" y="1403.07" font-size="16" textLength="19.57" lengthAdjust="spacingAndGlyphs" fill="#3a3a3a">2.5</text>
<text x="65.17" y="1375.89" font-size="16" textLength="7.83" lengthAdjust="spacingAndGlyphs" fill="#3a3a3a">3</text>
<text x="53.43" y="1348.70" font-size="16" textLength="19.57" lengthAdjust="spacingAndGlyphs" fill="#3a3a3a">3.5</text>
<text x="509.58" y="1339.00" font-size="24.5" textLength="124.44" lengthAdjust="spacing" stroke="#000" stroke-width="0.45">Bra027339</text>
<rect x="438.85" y="1502.01" width="14.90" height="30.79" fill="#DEEBF7" stroke="#1a1a1a" stroke-width="1.3"/>
<rect x="457.85" y="1491.07" width="14.90" height="41.73" fill="#9DC3E6" stroke="#1a1a1a" stroke-width="1.3"/>
<rect x="475.35" y="1452.64" width="14.90" height="80.16" fill="#00B0F0" stroke="#1a1a1a" stroke-width="1.3"/>
<rect x="493.85" y="1442.16" width="14.90" height="90.64" fill="#0070C0" stroke="#1a1a1a" stroke-width="1.3"/>
<rect x="538.45" y="1513.66" width="14.90" height="19.14" fill="#E2F0D9" stroke="#1a1a1a" stroke-width="1.3"/>
<rect x="556.45" y="1509.46" width="14.90" height="23.34" fill="#C5E0B4" stroke="#1a1a1a" stroke-width="1.3"/>
<rect x="574.95" y="1453.81" width="14.90" height="78.99" fill="#92D050" stroke="#1a1a1a" stroke-width="1.3"/>
<rect x="592.95" y="1471.04" width="14.90" height="61.76" fill="#00B050" stroke="#1a1a1a" stroke-width="1.3"/>
<rect x="637.85" y="1484.08" width="14.90" height="48.72" fill="#FFD5D5" stroke="#1a1a1a" stroke-width="1.3"/>
<rect x="656.05" y="1503.87" width="14.90" height="28.93" fill="#FF9F9F" stroke="#1a1a1a" stroke-width="1.3"/>
<rect x="674.05" y="1428.19" width="14.90" height="104.61" fill="#FF3333" stroke="#1a1a1a" stroke-width="1.3"/>
<rect x="692.05" y="1436.34" width="14.90" height="96.46" fill="#C00000" stroke="#1a1a1a" stroke-width="1.3"/>
<path d="M446.30 1522.32V1480.40M443.70 1480.40h5.2M443.70 1522.32h5.2" stroke="#1a1a1a" stroke-width="1.4" fill="none"/>
<path d="M465.30 1509.51V1471.09M462.70 1471.09h5.2M462.70 1509.51h5.2" stroke="#1a1a1a" stroke-width="1.4" fill="none"/>
<path d="M482.80 1461.07V1443.14M480.20 1443.14h5.2M480.20 1461.07h5.2" stroke="#1a1a1a" stroke-width="1.4" fill="none"/>
<path d="M501.30 1453.62V1429.17M498.70 1429.17h5.2M498.70 1453.62h5.2" stroke="#1a1a1a" stroke-width="1.4" fill="none"/>
<path d="M545.90 1518.83V1507.18M543.30 1507.18h5.2M543.30 1518.83h5.2" stroke="#1a1a1a" stroke-width="1.4" fill="none"/>
<path d="M563.90 1519.99V1496.70M561.30 1496.70h5.2M561.30 1519.99h5.2" stroke="#1a1a1a" stroke-width="1.4" fill="none"/>
<path d="M582.40 1477.38V1428.47M579.80 1428.47h5.2M579.80 1477.38h5.2" stroke="#1a1a1a" stroke-width="1.4" fill="none"/>
<path d="M600.40 1497.87V1442.44M597.80 1442.44h5.2M597.80 1497.87h5.2" stroke="#1a1a1a" stroke-width="1.4" fill="none"/>
<path d="M645.30 1491.35V1475.28M642.70 1475.28h5.2M642.70 1491.35h5.2" stroke="#1a1a1a" stroke-width="1.4" fill="none"/>
<path d="M663.50 1506.02V1500.20M660.90 1500.20h5.2M660.90 1506.02h5.2" stroke="#1a1a1a" stroke-width="1.4" fill="none"/>
<path d="M681.50 1483.43V1371.65M678.90 1371.65h5.2M678.90 1483.43h5.2" stroke="#1a1a1a" stroke-width="1.4" fill="none"/>
<path d="M699.50 1446.64V1422.88M696.90 1422.88h5.2M696.90 1446.64h5.2" stroke="#1a1a1a" stroke-width="1.4" fill="none"/>
<path d="M418.80 1346.50H423.80V1532.80H723.40M418.80 1532.80H423.80M418.80 1509.51H423.80M418.80 1486.22H423.80M418.80 1462.94H423.80M418.80 1439.65H423.80M418.80 1416.36H423.80M418.80 1393.08H423.80M418.80 1369.79H423.80M522.70 1532.80v4M622.30 1532.80v4M722.40 1532.80v4M423.80 1532.80v3.5" stroke="#000" stroke-width="2.8" fill="none" stroke-linecap="butt" stroke-linejoin="round"/>
<text x="404.17" y="1537.20" font-size="16" textLength="7.83" lengthAdjust="spacingAndGlyphs" fill="#3a3a3a">0</text>
<text x="404.17" y="1513.91" font-size="16" textLength="7.83" lengthAdjust="spacingAndGlyphs" fill="#3a3a3a">1</text>
<text x="404.17" y="1490.62" font-size="16" textLength="7.83" lengthAdjust="spacingAndGlyphs" fill="#3a3a3a">2</text>
<text x="404.17" y="1467.34" font-size="16" textLength="7.83" lengthAdjust="spacingAndGlyphs" fill="#3a3a3a">3</text>
<text x="404.17" y="1444.05" font-size="16" textLength="7.83" lengthAdjust="spacingAndGlyphs" fill="#3a3a3a">4</text>
<text x="404.17" y="1420.76" font-size="16" textLength="7.83" lengthAdjust="spacingAndGlyphs" fill="#3a3a3a">5</text>
<text x="404.17" y="1397.48" font-size="16" textLength="7.83" lengthAdjust="spacingAndGlyphs" fill="#3a3a3a">6</text>
<text x="404.17" y="1374.19" font-size="16" textLength="7.83" lengthAdjust="spacingAndGlyphs" fill="#3a3a3a">7</text>
<text x="404.17" y="1350.90" font-size="16" textLength="7.83" lengthAdjust="spacingAndGlyphs" fill="#3a3a3a">8</text>
<text x="853.28" y="1340.00" font-size="24.5" textLength="124.44" lengthAdjust="spacing" stroke="#000" stroke-width="0.45">Bra001662</text>
<rect x="789.35" y="1506.00" width="14.90" height="28.30" fill="#DEEBF7" stroke="#1a1a1a" stroke-width="1.3"/>
<rect x="807.85" y="1501.79" width="14.90" height="32.51" fill="#9DC3E6" stroke="#1a1a1a" stroke-width="1.3"/>
<rect x="825.85" y="1476.11" width="14.90" height="58.19" fill="#00B0F0" stroke="#1a1a1a" stroke-width="1.3"/>
<rect x="843.85" y="1499.92" width="14.90" height="34.38" fill="#0070C0" stroke="#1a1a1a" stroke-width="1.3"/>
<rect x="889.45" y="1450.89" width="14.90" height="83.41" fill="#E2F0D9" stroke="#1a1a1a" stroke-width="1.3"/>
<rect x="907.45" y="1374.30" width="14.90" height="160.00" fill="#C5E0B4" stroke="#1a1a1a" stroke-width="1.3"/>
<rect x="925.45" y="1506.00" width="14.90" height="28.30" fill="#92D050" stroke="#1a1a1a" stroke-width="1.3"/>
<rect x="942.95" y="1506.93" width="14.90" height="27.37" fill="#00B050" stroke="#1a1a1a" stroke-width="1.3"/>
<rect x="988.55" y="1513.93" width="14.90" height="20.37" fill="#FFD5D5" stroke="#1a1a1a" stroke-width="1.3"/>
<rect x="1006.55" y="1477.04" width="14.90" height="57.26" fill="#FF9F9F" stroke="#1a1a1a" stroke-width="1.3"/>
<rect x="1024.55" y="1512.53" width="14.90" height="21.77" fill="#FF3333" stroke="#1a1a1a" stroke-width="1.3"/>
<rect x="1042.55" y="1515.34" width="14.90" height="18.96" fill="#C00000" stroke="#1a1a1a" stroke-width="1.3"/>
<path d="M796.80 1530.56V1480.60M794.20 1480.60h5.2M794.20 1530.56h5.2" stroke="#1a1a1a" stroke-width="1.4" fill="none"/>
<path d="M815.30 1502.08V1500.49M812.70 1500.49h5.2M812.70 1502.08h5.2" stroke="#1a1a1a" stroke-width="1.4" fill="none"/>
<path d="M833.30 1479.66V1471.25M830.70 1471.25h5.2M830.70 1479.66h5.2" stroke="#1a1a1a" stroke-width="1.4" fill="none"/>
<path d="M851.30 1500.68V1497.87M848.70 1497.87h5.2M848.70 1500.68h5.2" stroke="#1a1a1a" stroke-width="1.4" fill="none"/>
<path d="M896.90 1478.26V1421.29M894.30 1421.29h5.2M894.30 1478.26h5.2" stroke="#1a1a1a" stroke-width="1.4" fill="none"/>
<path d="M914.90 1377.39V1369.92M912.30 1369.92h5.2M912.30 1377.39h5.2" stroke="#1a1a1a" stroke-width="1.4" fill="none"/>
<path d="M932.90 1509.08V1501.61M930.30 1501.61h5.2M930.30 1509.08h5.2" stroke="#1a1a1a" stroke-width="1.4" fill="none"/>
<path d="M950.40 1514.69V1496.94M947.80 1496.94h5.2M947.80 1514.69h5.2" stroke="#1a1a1a" stroke-width="1.4" fill="none"/>
<path d="M996.00 1515.62V1510.95M993.40 1510.95h5.2M993.40 1515.62h5.2" stroke="#1a1a1a" stroke-width="1.4" fill="none"/>
<path d="M1014.00 1487.60V1465.65M1011.40 1465.65h5.2M1011.40 1487.60h5.2" stroke="#1a1a1a" stroke-width="1.4" fill="none"/>
<path d="M1032.00 1515.62V1507.68M1029.40 1507.68h5.2M1029.40 1515.62h5.2" stroke="#1a1a1a" stroke-width="1.4" fill="none"/>
<path d="M1050.00 1518.42V1510.95M1047.40 1510.95h5.2M1047.40 1518.42h5.2" stroke="#1a1a1a" stroke-width="1.4" fill="none"/>
<path d="M768.90 1347.50H773.90V1534.30H1073.40M768.90 1534.30H773.90M768.90 1515.62H773.90M768.90 1496.94H773.90M768.90 1478.26H773.90M768.90 1459.58H773.90M768.90 1440.90H773.90M768.90 1422.22H773.90M768.90 1403.54H773.90M768.90 1384.86H773.90M768.90 1366.18H773.90M872.70 1534.30v4M972.30 1534.30v4M1072.40 1534.30v4M773.90 1534.30v3.5" stroke="#000" stroke-width="2.8" fill="none" stroke-linecap="butt" stroke-linejoin="round"/>
<text x="754.27" y="1538.70" font-size="16" textLength="7.83" lengthAdjust="spacingAndGlyphs" fill="#3a3a3a">0</text>
<text x="754.27" y="1520.02" font-size="16" textLength="7.83" lengthAdjust="spacingAndGlyphs" fill="#3a3a3a">2</text>
<text x="754.27" y="1501.34" font-size="16" textLength="7.83" lengthAdjust="spacingAndGlyphs" fill="#3a3a3a">4</text>
<text x="754.27" y="1482.66" font-size="16" textLength="7.83" lengthAdjust="spacingAndGlyphs" fill="#3a3a3a">6</text>
<text x="754.27" y="1463.98" font-size="16" textLength="7.83" lengthAdjust="spacingAndGlyphs" fill="#3a3a3a">8</text>
<text x="746.44" y="1445.30" font-size="16" textLength="15.66" lengthAdjust="spacingAndGlyphs" fill="#3a3a3a">10</text>
<text x="746.44" y="1426.62" font-size="16" textLength="15.66" lengthAdjust="spacingAndGlyphs" fill="#3a3a3a">12</text>
<text x="746.44" y="1407.94" font-size="16" textLength="15.66" lengthAdjust="spacingAndGlyphs" fill="#3a3a3a">14</text>
<text x="746.44" y="1389.26" font-size="16" textLength="15.66" lengthAdjust="spacingAndGlyphs" fill="#3a3a3a">16</text>
<text x="746.44" y="1370.58" font-size="16" textLength="15.66" lengthAdjust="spacingAndGlyphs" fill="#3a3a3a">18</text>
<text x="746.44" y="1351.90" font-size="16" textLength="15.66" lengthAdjust="spacingAndGlyphs" fill="#3a3a3a">20</text>
<text x="1192.98" y="1340.00" font-size="24.5" textLength="124.44" lengthAdjust="spacing" stroke="#000" stroke-width="0.45">Bra015912</text>
<rect x="1136.05" y="1523.31" width="14.90" height="9.59" fill="#DEEBF7" stroke="#1a1a1a" stroke-width="1.3"/>
<rect x="1154.55" y="1511.68" width="14.90" height="21.22" fill="#9DC3E6" stroke="#1a1a1a" stroke-width="1.3"/>
<rect x="1172.55" y="1513.54" width="14.90" height="19.36" fill="#00B0F0" stroke="#1a1a1a" stroke-width="1.3"/>
<rect x="1191.25" y="1525.64" width="14.90" height="7.26" fill="#0070C0" stroke="#1a1a1a" stroke-width="1.3"/>
<rect x="1237.35" y="1515.87" width="14.90" height="17.03" fill="#E2F0D9" stroke="#1a1a1a" stroke-width="1.3"/>
<rect x="1255.85" y="1521.92" width="14.90" height="10.98" fill="#C5E0B4" stroke="#1a1a1a" stroke-width="1.3"/>
<rect x="1274.05" y="1438.64" width="14.90" height="94.26" fill="#92D050" stroke="#1a1a1a" stroke-width="1.3"/>
<rect x="1292.55" y="1407.93" width="14.90" height="124.97" fill="#00B050" stroke="#1a1a1a" stroke-width="1.3"/>
<rect x="1338.65" y="1517.73" width="14.90" height="15.17" fill="#FFD5D5" stroke="#1a1a1a" stroke-width="1.3"/>
<rect x="1356.85" y="1522.38" width="14.90" height="10.52" fill="#FF9F9F" stroke="#1a1a1a" stroke-width="1.3"/>
<rect x="1375.35" y="1405.14" width="14.90" height="127.76" fill="#FF3333" stroke="#1a1a1a" stroke-width="1.3"/>
<rect x="1393.35" y="1454.46" width="14.90" height="78.44" fill="#C00000" stroke="#1a1a1a" stroke-width="1.3"/>
<path d="M1143.50 1524.06V1520.80M1140.90 1520.80h5.2M1140.90 1524.06h5.2" stroke="#1a1a1a" stroke-width="1.4" fill="none"/>
<path d="M1162.00 1516.62V1505.45M1159.40 1505.45h5.2M1159.40 1516.62h5.2" stroke="#1a1a1a" stroke-width="1.4" fill="none"/>
<path d="M1180.00 1516.62V1509.64M1177.40 1509.64h5.2M1177.40 1516.62h5.2" stroke="#1a1a1a" stroke-width="1.4" fill="none"/>
<path d="M1198.70 1528.25V1521.27M1196.10 1521.27h5.2M1196.10 1528.25h5.2" stroke="#1a1a1a" stroke-width="1.4" fill="none"/>
<path d="M1244.80 1518.01V1511.96M1242.20 1511.96h5.2M1242.20 1518.01h5.2" stroke="#1a1a1a" stroke-width="1.4" fill="none"/>
<path d="M1263.30 1528.71V1513.36M1260.70 1513.36h5.2M1260.70 1528.71h5.2" stroke="#1a1a1a" stroke-width="1.4" fill="none"/>
<path d="M1281.50 1448.22V1426.82M1278.90 1426.82h5.2M1278.90 1448.22h5.2" stroke="#1a1a1a" stroke-width="1.4" fill="none"/>
<path d="M1300.00 1419.38V1394.72M1297.40 1394.72h5.2M1297.40 1419.38h5.2" stroke="#1a1a1a" stroke-width="1.4" fill="none"/>
<path d="M1346.10 1520.80V1512.43M1343.50 1512.43h5.2M1343.50 1520.80h5.2" stroke="#1a1a1a" stroke-width="1.4" fill="none"/>
<path d="M1364.30 1522.66V1520.80M1361.70 1520.80h5.2M1361.70 1522.66h5.2" stroke="#1a1a1a" stroke-width="1.4" fill="none"/>
<path d="M1382.80 1441.71V1367.27M1380.20 1367.27h5.2M1380.20 1441.71h5.2" stroke="#1a1a1a" stroke-width="1.4" fill="none"/>
<path d="M1400.80 1466.83V1441.71M1398.20 1441.71h5.2M1398.20 1466.83h5.2" stroke="#1a1a1a" stroke-width="1.4" fill="none"/>
<path d="M1115.40 1346.80H1120.40V1532.90H1425.40M1115.40 1532.90H1120.40M1115.40 1514.29H1120.40M1115.40 1495.68H1120.40M1115.40 1477.07H1120.40M1115.40 1458.46H1120.40M1115.40 1439.85H1120.40M1115.40 1421.24H1120.40M1115.40 1402.63H1120.40M1115.40 1384.02H1120.40M1115.40 1365.41H1120.40M1221.10 1532.90v4M1322.90 1532.90v4M1424.40 1532.90v4M1120.40 1532.90v3.5" stroke="#000" stroke-width="2.8" fill="none" stroke-linecap="butt" stroke-linejoin="round"/>
<text x="1100.77" y="1537.30" font-size="16" textLength="7.83" lengthAdjust="spacingAndGlyphs" fill="#3a3a3a">0</text>
<text x="1100.77" y="1518.69" font-size="16" textLength="7.83" lengthAdjust="spacingAndGlyphs" fill="#3a3a3a">2</text>
<text x="1100.77" y="1500.08" font-size="16" textLength="7.83" lengthAdjust="spacingAndGlyphs" fill="#3a3a3a">4</text>
<text x="1100.77" y="1481.47" font-size="16" textLength="7.83" lengthAdjust="spacingAndGlyphs" fill="#3a3a3a">6</text>
<text x="1100.77" y="1462.86" font-size="16" textLength="7.83" lengthAdjust="spacingAndGlyphs" fill="#3a3a3a">8</text>
<text x="1092.94" y="1444.25" font-size="16" textLength="15.66" lengthAdjust="spacingAndGlyphs" fill="#3a3a3a">10</text>
<text x="1092.94" y="1425.64" font-size="16" textLength="15.66" lengthAdjust="spacingAndGlyphs" fill="#3a3a3a">12</text>
<text x="1092.94" y="1407.03" font-size="16" textLength="15.66" lengthAdjust="spacingAndGlyphs" fill="#3a3a3a">14</text>
<text x="1092.94" y="1388.42" font-size="16" textLength="15.66" lengthAdjust="spacingAndGlyphs" fill="#3a3a3a">16</text>
<text x="1092.94" y="1369.81" font-size="16" textLength="15.66" lengthAdjust="spacingAndGlyphs" fill="#3a3a3a">18</text>
<text x="1092.94" y="1351.20" font-size="16" textLength="15.66" lengthAdjust="spacingAndGlyphs" fill="#3a3a3a">20</text>
<text x="139.49" y="1598.50" font-size="24.5" textLength="169.61" lengthAdjust="spacing" stroke="#000" stroke-width="0.45">MSTRG.24259</text>
<rect x="97.45" y="1709.68" width="14.90" height="85.42" fill="#DEEBF7" stroke="#1a1a1a" stroke-width="1.3"/>
<rect x="115.95" y="1741.87" width="14.90" height="53.23" fill="#9DC3E6" stroke="#1a1a1a" stroke-width="1.3"/>
<rect x="134.15" y="1700.70" width="14.90" height="94.40" fill="#00B0F0" stroke="#1a1a1a" stroke-width="1.3"/>
<rect x="151.85" y="1686.48" width="14.90" height="108.62" fill="#0070C0" stroke="#1a1a1a" stroke-width="1.3"/>
<rect x="197.45" y="1697.71" width="14.90" height="97.39" fill="#E2F0D9" stroke="#1a1a1a" stroke-width="1.3"/>
<rect x="215.15" y="1735.88" width="14.90" height="59.22" fill="#C5E0B4" stroke="#1a1a1a" stroke-width="1.3"/>
<rect x="233.45" y="1711.93" width="14.90" height="83.17" fill="#92D050" stroke="#1a1a1a" stroke-width="1.3"/>
<rect x="251.15" y="1677.50" width="14.90" height="117.60" fill="#00B050" stroke="#1a1a1a" stroke-width="1.3"/>
<rect x="297.15" y="1702.95" width="14.90" height="92.15" fill="#FFD5D5" stroke="#1a1a1a" stroke-width="1.3"/>
<rect x="314.55" y="1698.46" width="14.90" height="96.64" fill="#FF9F9F" stroke="#1a1a1a" stroke-width="1.3"/>
<rect x="332.55" y="1681.99" width="14.90" height="113.11" fill="#FF3333" stroke="#1a1a1a" stroke-width="1.3"/>
<rect x="350.75" y="1660.29" width="14.90" height="134.81" fill="#C00000" stroke="#1a1a1a" stroke-width="1.3"/>
<path d="M104.90 1720.26V1699.30M102.30 1699.30h5.2M102.30 1720.26h5.2" stroke="#1a1a1a" stroke-width="1.4" fill="none"/>
<path d="M123.40 1761.42V1721.76M120.80 1721.76h5.2M120.80 1761.42h5.2" stroke="#1a1a1a" stroke-width="1.4" fill="none"/>
<path d="M141.60 1706.79V1692.57M139.00 1692.57h5.2M139.00 1706.79h5.2" stroke="#1a1a1a" stroke-width="1.4" fill="none"/>
<path d="M159.30 1701.55V1670.12M156.70 1670.12h5.2M156.70 1701.55h5.2" stroke="#1a1a1a" stroke-width="1.4" fill="none"/>
<path d="M204.90 1716.52V1679.10M202.30 1679.10h5.2M202.30 1716.52h5.2" stroke="#1a1a1a" stroke-width="1.4" fill="none"/>
<path d="M222.60 1756.18V1714.27M220.00 1714.27h5.2M220.00 1756.18h5.2" stroke="#1a1a1a" stroke-width="1.4" fill="none"/>
<path d="M240.90 1713.52V1709.03M238.30 1709.03h5.2M238.30 1713.52h5.2" stroke="#1a1a1a" stroke-width="1.4" fill="none"/>
<path d="M258.60 1690.32V1662.63M256.00 1662.63h5.2M256.00 1690.32h5.2" stroke="#1a1a1a" stroke-width="1.4" fill="none"/>
<path d="M304.60 1723.25V1681.34M302.00 1681.34h5.2M302.00 1723.25h5.2" stroke="#1a1a1a" stroke-width="1.4" fill="none"/>
<path d="M322.00 1720.26V1675.36M319.40 1675.36h5.2M319.40 1720.26h5.2" stroke="#1a1a1a" stroke-width="1.4" fill="none"/>
<path d="M340.00 1695.56V1667.87M337.40 1667.87h5.2M337.40 1695.56h5.2" stroke="#1a1a1a" stroke-width="1.4" fill="none"/>
<path d="M358.20 1695.56V1622.97M355.60 1622.97h5.2M355.60 1695.56h5.2" stroke="#1a1a1a" stroke-width="1.4" fill="none"/>
<path d="M76.70 1608.00H81.70V1795.10H382.00M76.70 1795.10H81.70M76.70 1757.68H81.70M76.70 1720.26H81.70M76.70 1682.84H81.70M76.70 1645.42H81.70M181.40 1795.10v4M281.00 1795.10v4M381.00 1795.10v4M81.70 1795.10v3.5" stroke="#000" stroke-width="2.8" fill="none" stroke-linecap="butt" stroke-linejoin="round"/>
<text x="62.07" y="1799.50" font-size="16" textLength="7.83" lengthAdjust="spacingAndGlyphs" fill="#3a3a3a">0</text>
<text x="50.33" y="1762.08" font-size="16" textLength="19.57" lengthAdjust="spacingAndGlyphs" fill="#3a3a3a">0.5</text>
<text x="62.07" y="1724.66" font-size="16" textLength="7.83" lengthAdjust="spacingAndGlyphs" fill="#3a3a3a">1</text>
<text x="50.33" y="1687.24" font-size="16" textLength="19.57" lengthAdjust="spacingAndGlyphs" fill="#3a3a3a">1.5</text>
<text x="62.07" y="1649.82" font-size="16" textLength="7.83" lengthAdjust="spacingAndGlyphs" fill="#3a3a3a">2</text>
<text x="50.33" y="1612.40" font-size="16" textLength="19.57" lengthAdjust="spacingAndGlyphs" fill="#3a3a3a">2.5</text>
<text x="0" y="0" font-size="21" stroke="#000" stroke-width="0.45" transform="translate(105.60,1832.39) rotate(-90)">0 h</text>
<text x="0" y="0" font-size="21" stroke="#000" stroke-width="0.45" transform="translate(124.60,1844.07) rotate(-90)">24 h</text>
<text x="0" y="0" font-size="21" stroke="#000" stroke-width="0.45" transform="translate(142.90,1844.07) rotate(-90)">72 h</text>
<text x="0" y="0" font-size="21" stroke="#000" stroke-width="0.45" transform="translate(162.60,1855.75) rotate(-90)">120 h</text>
<text x="0" y="0" font-size="21" stroke="#000" stroke-width="0.45" transform="translate(208.90,1832.39) rotate(-90)">0 h</text>
<text x="0" y="0" font-size="21" stroke="#000" stroke-width="0.45" transform="translate(227.90,1844.07) rotate(-90)">24 h</text>
<text x="0" y="0" font-size="21" stroke="#000" stroke-width="0.45" transform="translate(246.60,1844.07) rotate(-90)">72 h</text>
<text x="0" y="0" font-size="21" stroke="#000" stroke-width="0.45" transform="translate(265.90,1855.75) rotate(-90)">120 h</text>
<text x="0" y="0" font-size="21" stroke="#000" stroke-width="0.45" transform="translate(308.80,1832.39) rotate(-90)">0 h</text>
<text x="0" y="0" font-size="21" stroke="#000" stroke-width="0.45" transform="translate(327.80,1844.07) rotate(-90)">24 h</text>
<text x="0" y="0" font-size="21" stroke="#000" stroke-width="0.45" transform="translate(346.80,1844.07) rotate(-90)">72 h</text>
<text x="0" y="0" font-size="21" stroke="#000" stroke-width="0.45" transform="translate(365.50,1855.75) rotate(-90)">120 h</text>
<line x1="88.00" y1="1861.50" x2="166.40" y2="1861.50" stroke="#000" stroke-width="1.8"/>
<line x1="194.30" y1="1861.50" x2="272.00" y2="1861.50" stroke="#000" stroke-width="1.8"/>
<line x1="294.40" y1="1861.50" x2="372.20" y2="1861.50" stroke="#000" stroke-width="1.8"/>
<text x="94.43" y="1884.20" font-size="18" textLength="58.54" lengthAdjust="spacing" stroke="#000" stroke-width="0.3">91-112</text>
<text x="206.31" y="1884.20" font-size="18" textLength="61.03" lengthAdjust="spacing" stroke="#000" stroke-width="0.3">T12-19</text>
<text x="312.56" y="1884.20" font-size="18" textLength="49.26" lengthAdjust="spacing" stroke="#000" stroke-width="0.3">12-85</text>
<text x="487.99" y="1598.90" font-size="24.5" textLength="169.61" lengthAdjust="spacing" stroke="#000" stroke-width="0.45">MSTRG.14375</text>
<rect x="447.75" y="1726.97" width="14.90" height="67.03" fill="#DEEBF7" stroke="#1a1a1a" stroke-width="1.3"/>
<rect x="466.45" y="1679.36" width="14.90" height="114.64" fill="#9DC3E6" stroke="#1a1a1a" stroke-width="1.3"/>
<rect x="483.75" y="1780.65" width="14.90" height="13.35" fill="#00B0F0" stroke="#1a1a1a" stroke-width="1.3"/>
<rect x="501.75" y="1780.65" width="14.90" height="13.35" fill="#0070C0" stroke="#1a1a1a" stroke-width="1.3"/>
<rect x="547.35" y="1708.30" width="14.90" height="85.70" fill="#E2F0D9" stroke="#1a1a1a" stroke-width="1.3"/>
<rect x="565.35" y="1738.64" width="14.90" height="55.36" fill="#C5E0B4" stroke="#1a1a1a" stroke-width="1.3"/>
<rect x="583.35" y="1786.25" width="14.90" height="7.75" fill="#92D050" stroke="#1a1a1a" stroke-width="1.3"/>
<rect x="600.85" y="1788.12" width="14.90" height="5.88" fill="#00B050" stroke="#1a1a1a" stroke-width="1.3"/>
<rect x="646.45" y="1671.89" width="14.90" height="122.11" fill="#FFD5D5" stroke="#1a1a1a" stroke-width="1.3"/>
<rect x="664.45" y="1694.30" width="14.90" height="99.70" fill="#FF9F9F" stroke="#1a1a1a" stroke-width="1.3"/>
<rect x="682.45" y="1790.45" width="14.90" height="3.55" fill="#FF3333" stroke="#1a1a1a" stroke-width="1.3"/>
<rect x="699.75" y="1786.25" width="14.90" height="7.75" fill="#C00000" stroke="#1a1a1a" stroke-width="1.3"/>
<path d="M455.20 1763.66V1687.58M452.60 1687.58h5.2M452.60 1763.66h5.2" stroke="#1a1a1a" stroke-width="1.4" fill="none"/>
<path d="M473.90 1719.32V1637.64M471.30 1637.64h5.2M471.30 1719.32h5.2" stroke="#1a1a1a" stroke-width="1.4" fill="none"/>
<path d="M491.20 1784.66V1776.26M488.60 1776.26h5.2M488.60 1784.66h5.2" stroke="#1a1a1a" stroke-width="1.4" fill="none"/>
<path d="M509.20 1781.86V1777.66M506.60 1777.66h5.2M506.60 1781.86h5.2" stroke="#1a1a1a" stroke-width="1.4" fill="none"/>
<path d="M554.80 1716.99V1698.32M552.20 1698.32h5.2M552.20 1716.99h5.2" stroke="#1a1a1a" stroke-width="1.4" fill="none"/>
<path d="M572.80 1767.40V1709.05M570.20 1709.05h5.2M570.20 1767.40h5.2" stroke="#1a1a1a" stroke-width="1.4" fill="none"/>
<path d="M590.80 1789.33V1780.93M588.20 1780.93h5.2M588.20 1789.33h5.2" stroke="#1a1a1a" stroke-width="1.4" fill="none"/>
<path d="M608.30 1788.87V1786.53M605.70 1786.53h5.2M605.70 1788.87h5.2" stroke="#1a1a1a" stroke-width="1.4" fill="none"/>
<path d="M653.90 1687.58V1653.04M651.30 1653.04h5.2M651.30 1687.58h5.2" stroke="#1a1a1a" stroke-width="1.4" fill="none"/>
<path d="M671.90 1707.65V1679.65M669.30 1679.65h5.2M669.30 1707.65h5.2" stroke="#1a1a1a" stroke-width="1.4" fill="none"/>
<path d="M689.90 1790.27V1789.33M687.30 1789.33h5.2M687.30 1790.27h5.2" stroke="#1a1a1a" stroke-width="1.4" fill="none"/>
<path d="M707.20 1788.40V1782.33M704.60 1782.33h5.2M704.60 1788.40h5.2" stroke="#1a1a1a" stroke-width="1.4" fill="none"/>
<path d="M427.10 1607.30H432.10V1794.00H730.60M427.10 1794.00H432.10M427.10 1770.66H432.10M427.10 1747.33H432.10M427.10 1723.99H432.10M427.10 1700.65H432.10M427.10 1677.31H432.10M427.10 1653.97H432.10M427.10 1630.64H432.10M531.60 1794.00v4M630.00 1794.00v4M729.60 1794.00v4M432.10 1794.00v3.5" stroke="#000" stroke-width="2.8" fill="none" stroke-linecap="butt" stroke-linejoin="round"/>
<text x="412.47" y="1798.40" font-size="16" textLength="7.83" lengthAdjust="spacingAndGlyphs" fill="#3a3a3a">0</text>
<text x="400.73" y="1775.06" font-size="16" textLength="19.57" lengthAdjust="spacingAndGlyphs" fill="#3a3a3a">0.5</text>
<text x="412.47" y="1751.73" font-size="16" textLength="7.83" lengthAdjust="spacingAndGlyphs" fill="#3a3a3a">1</text>
<text x="400.73" y="1728.39" font-size="16" textLength="19.57" lengthAdjust="spacingAndGlyphs" fill="#3a3a3a">1.5</text>
<text x="412.47" y="1705.05" font-size="16" textLength="7.83" lengthAdjust="spacingAndGlyphs" fill="#3a3a3a">2</text>
<text x="400.73" y="1681.71" font-size="16" textLength="19.57" lengthAdjust="spacingAndGlyphs" fill="#3a3a3a">2.5</text>
<text x="412.47" y="1658.38" font-size="16" textLength="7.83" lengthAdjust="spacingAndGlyphs" fill="#3a3a3a">3</text>
<text x="400.73" y="1635.04" font-size="16" textLength="19.57" lengthAdjust="spacingAndGlyphs" fill="#3a3a3a">3.5</text>
<text x="412.47" y="1611.70" font-size="16" textLength="7.83" lengthAdjust="spacingAndGlyphs" fill="#3a3a3a">4</text>
<text x="0" y="0" font-size="21" stroke="#000" stroke-width="0.45" transform="translate(459.30,1832.79) rotate(-90)">0 h</text>
<text x="0" y="0" font-size="21" stroke="#000" stroke-width="0.45" transform="translate(478.10,1844.47) rotate(-90)">24 h</text>
<text x="0" y="0" font-size="21" stroke="#000" stroke-width="0.45" transform="translate(497.60,1844.47) rotate(-90)">72 h</text>
<text x="0" y="0" font-size="21" stroke="#000" stroke-width="0.45" transform="translate(516.30,1856.15) rotate(-90)">120 h</text>
<text x="0" y="0" font-size="21" stroke="#000" stroke-width="0.45" transform="translate(553.90,1832.79) rotate(-90)">0 h</text>
<text x="0" y="0" font-size="21" stroke="#000" stroke-width="0.45" transform="translate(573.10,1844.47) rotate(-90)">24 h</text>
<text x="0" y="0" font-size="21" stroke="#000" stroke-width="0.45" transform="translate(592.10,1844.47) rotate(-90)">72 h</text>
<text x="0" y="0" font-size="21" stroke="#000" stroke-width="0.45" transform="translate(610.90,1856.15) rotate(-90)">120 h</text>
<text x="0" y="0" font-size="21" stroke="#000" stroke-width="0.45" transform="translate(653.50,1832.79) rotate(-90)">0 h</text>
<text x="0" y="0" font-size="21" stroke="#000" stroke-width="0.45" transform="translate(672.60,1844.47) rotate(-90)">24 h</text>
<text x="0" y="0" font-size="21" stroke="#000" stroke-width="0.45" transform="translate(691.60,1844.47) rotate(-90)">72 h</text>
<text x="0" y="0" font-size="21" stroke="#000" stroke-width="0.45" transform="translate(710.30,1856.15) rotate(-90)">120 h</text>
<line x1="442.30" y1="1863.60" x2="519.60" y2="1863.60" stroke="#000" stroke-width="1.8"/>
<line x1="539.30" y1="1863.60" x2="616.80" y2="1863.60" stroke="#000" stroke-width="1.8"/>
<line x1="639.00" y1="1863.60" x2="716.90" y2="1863.60" stroke="#000" stroke-width="1.8"/>
<text x="447.93" y="1884.20" font-size="18" textLength="58.54" lengthAdjust="spacing" stroke="#000" stroke-width="0.3">91-112</text>
<text x="550.91" y="1884.20" font-size="18" textLength="61.03" lengthAdjust="spacing" stroke="#000" stroke-width="0.3">T12-19</text>
<text x="658.56" y="1884.20" font-size="18" textLength="49.26" lengthAdjust="spacing" stroke="#000" stroke-width="0.3">12-85</text>
<text x="838.06" y="1598.90" font-size="24.5" textLength="155.47" lengthAdjust="spacing" stroke="#000" stroke-width="0.45">MSTRG.8496</text>
<rect x="789.35" y="1732.30" width="14.90" height="62.90" fill="#DEEBF7" stroke="#1a1a1a" stroke-width="1.3"/>
<rect x="807.85" y="1739.78" width="14.90" height="55.42" fill="#9DC3E6" stroke="#1a1a1a" stroke-width="1.3"/>
<rect x="826.05" y="1686.70" width="14.90" height="108.50" fill="#00B0F0" stroke="#1a1a1a" stroke-width="1.3"/>
<rect x="843.85" y="1724.08" width="14.90" height="71.12" fill="#0070C0" stroke="#1a1a1a" stroke-width="1.3"/>
<rect x="887.75" y="1707.26" width="14.90" height="87.94" fill="#E2F0D9" stroke="#1a1a1a" stroke-width="1.3"/>
<rect x="905.75" y="1661.28" width="14.90" height="133.92" fill="#C5E0B4" stroke="#1a1a1a" stroke-width="1.3"/>
<rect x="923.75" y="1735.29" width="14.90" height="59.91" fill="#92D050" stroke="#1a1a1a" stroke-width="1.3"/>
<rect x="941.25" y="1726.70" width="14.90" height="68.50" fill="#00B050" stroke="#1a1a1a" stroke-width="1.3"/>
<rect x="984.95" y="1750.99" width="14.90" height="44.21" fill="#FFD5D5" stroke="#1a1a1a" stroke-width="1.3"/>
<rect x="1002.95" y="1702.40" width="14.90" height="92.80" fill="#FF9F9F" stroke="#1a1a1a" stroke-width="1.3"/>
<rect x="1021.45" y="1722.96" width="14.90" height="72.24" fill="#FF3333" stroke="#1a1a1a" stroke-width="1.3"/>
<rect x="1038.95" y="1733.43" width="14.90" height="61.77" fill="#C00000" stroke="#1a1a1a" stroke-width="1.3"/>
<path d="M796.80 1761.56V1701.75M794.20 1701.75h5.2M794.20 1761.56h5.2" stroke="#1a1a1a" stroke-width="1.4" fill="none"/>
<path d="M815.30 1743.62V1733.52M812.70 1733.52h5.2M812.70 1743.62h5.2" stroke="#1a1a1a" stroke-width="1.4" fill="none"/>
<path d="M833.50 1710.35V1661.75M830.90 1661.75h5.2M830.90 1710.35h5.2" stroke="#1a1a1a" stroke-width="1.4" fill="none"/>
<path d="M851.30 1732.78V1713.71M848.70 1713.71h5.2M848.70 1732.78h5.2" stroke="#1a1a1a" stroke-width="1.4" fill="none"/>
<path d="M895.20 1722.31V1692.03M892.60 1692.03h5.2M892.60 1722.31h5.2" stroke="#1a1a1a" stroke-width="1.4" fill="none"/>
<path d="M913.20 1693.15V1628.11M910.60 1628.11h5.2M910.60 1693.15h5.2" stroke="#1a1a1a" stroke-width="1.4" fill="none"/>
<path d="M931.20 1742.87V1725.30M928.60 1725.30h5.2M928.60 1742.87h5.2" stroke="#1a1a1a" stroke-width="1.4" fill="none"/>
<path d="M948.70 1730.91V1721.19M946.10 1721.19h5.2M946.10 1730.91h5.2" stroke="#1a1a1a" stroke-width="1.4" fill="none"/>
<path d="M992.40 1755.95V1743.99M989.80 1743.99h5.2M989.80 1755.95h5.2" stroke="#1a1a1a" stroke-width="1.4" fill="none"/>
<path d="M1010.40 1722.68V1680.82M1007.80 1680.82h5.2M1007.80 1722.68h5.2" stroke="#1a1a1a" stroke-width="1.4" fill="none"/>
<path d="M1028.90 1727.17V1717.45M1026.30 1717.45h5.2M1026.30 1727.17h5.2" stroke="#1a1a1a" stroke-width="1.4" fill="none"/>
<path d="M1046.40 1741.00V1725.30M1043.80 1725.30h5.2M1043.80 1741.00h5.2" stroke="#1a1a1a" stroke-width="1.4" fill="none"/>
<path d="M769.70 1608.30H774.70V1795.20H1068.60M769.70 1795.20H774.70M769.70 1776.51H774.70M769.70 1757.82H774.70M769.70 1739.13H774.70M769.70 1720.44H774.70M769.70 1701.75H774.70M769.70 1683.06H774.70M769.70 1664.37H774.70M769.70 1645.68H774.70M769.70 1626.99H774.70M872.70 1795.20v4M970.40 1795.20v4M1067.60 1795.20v4M774.70 1795.20v3.5" stroke="#000" stroke-width="2.8" fill="none" stroke-linecap="butt" stroke-linejoin="round"/>
<text x="755.07" y="1799.60" font-size="16" textLength="7.83" lengthAdjust="spacingAndGlyphs" fill="#3a3a3a">0</text>
<text x="743.33" y="1780.91" font-size="16" textLength="19.57" lengthAdjust="spacingAndGlyphs" fill="#3a3a3a">0.5</text>
<text x="755.07" y="1762.22" font-size="16" textLength="7.83" lengthAdjust="spacingAndGlyphs" fill="#3a3a3a">1</text>
<text x="743.33" y="1743.53" font-size="16" textLength="19.57" lengthAdjust="spacingAndGlyphs" fill="#3a3a3a">1.5</text>
<text x="755.07" y="1724.84" font-size="16" textLength="7.83" lengthAdjust="spacingAndGlyphs" fill="#3a3a3a">2</text>
<text x="743.33" y="1706.15" font-size="16" textLength="19.57" lengthAdjust="spacingAndGlyphs" fill="#3a3a3a">2.5</text>
<text x="755.07" y="1687.46" font-size="16" textLength="7.83" lengthAdjust="spacingAndGlyphs" fill="#3a3a3a">3</text>
<text x="743.33" y="1668.77" font-size="16" textLength="19.57" lengthAdjust="spacingAndGlyphs" fill="#3a3a3a">3.5</text>
<text x="755.07" y="1650.08" font-size="16" textLength="7.83" lengthAdjust="spacingAndGlyphs" fill="#3a3a3a">4</text>
<text x="743.33" y="1631.39" font-size="16" textLength="19.57" lengthAdjust="spacingAndGlyphs" fill="#3a3a3a">4.5</text>
<text x="755.07" y="1612.70" font-size="16" textLength="7.83" lengthAdjust="spacingAndGlyphs" fill="#3a3a3a">5</text>
<text x="0" y="0" font-size="21" stroke="#000" stroke-width="0.45" transform="translate(802.90,1832.79) rotate(-90)">0 h</text>
<text x="0" y="0" font-size="21" stroke="#000" stroke-width="0.45" transform="translate(821.70,1844.47) rotate(-90)">24 h</text>
<text x="0" y="0" font-size="21" stroke="#000" stroke-width="0.45" transform="translate(840.60,1844.47) rotate(-90)">72 h</text>
<text x="0" y="0" font-size="21" stroke="#000" stroke-width="0.45" transform="translate(859.40,1856.15) rotate(-90)">120 h</text>
<text x="0" y="0" font-size="21" stroke="#000" stroke-width="0.45" transform="translate(897.10,1832.79) rotate(-90)">0 h</text>
<text x="0" y="0" font-size="21" stroke="#000" stroke-width="0.45" transform="translate(916.10,1844.47) rotate(-90)">24 h</text>
<text x="0" y="0" font-size="21" stroke="#000" stroke-width="0.45" transform="translate(934.90,1844.47) rotate(-90)">72 h</text>
<text x="0" y="0" font-size="21" stroke="#000" stroke-width="0.45" transform="translate(953.60,1856.15) rotate(-90)">120 h</text>
<text x="0" y="0" font-size="21" stroke="#000" stroke-width="0.45" transform="translate(997.30,1832.79) rotate(-90)">0 h</text>
<text x="0" y="0" font-size="21" stroke="#000" stroke-width="0.45" transform="translate(1016.10,1844.47) rotate(-90)">24 h</text>
<text x="0" y="0" font-size="21" stroke="#000" stroke-width="0.45" transform="translate(1034.90,1844.47) rotate(-90)">72 h</text>
<text x="0" y="0" font-size="21" stroke="#000" stroke-width="0.45" transform="translate(1054.10,1856.15) rotate(-90)">120 h</text>
<line x1="786.00" y1="1863.60" x2="863.60" y2="1863.60" stroke="#000" stroke-width="1.8"/>
<line x1="883.50" y1="1863.60" x2="960.30" y2="1863.60" stroke="#000" stroke-width="1.8"/>
<line x1="982.40" y1="1863.60" x2="1060.40" y2="1863.60" stroke="#000" stroke-width="1.8"/>
<text x="791.43" y="1884.20" font-size="18" textLength="58.54" lengthAdjust="spacing" stroke="#000" stroke-width="0.3">91-112</text>
<text x="894.41" y="1884.20" font-size="18" textLength="61.03" lengthAdjust="spacing" stroke="#000" stroke-width="0.3">T12-19</text>
<text x="1001.36" y="1884.20" font-size="18" textLength="49.26" lengthAdjust="spacing" stroke="#000" stroke-width="0.3">12-85</text>
<text x="1176.99" y="1598.90" font-size="24.5" textLength="169.61" lengthAdjust="spacing" stroke="#000" stroke-width="0.45">MSTRG.20602</text>
<rect x="1135.35" y="1781.67" width="14.90" height="11.63" fill="#DEEBF7" stroke="#1a1a1a" stroke-width="1.3"/>
<rect x="1153.85" y="1765.13" width="14.90" height="28.17" fill="#9DC3E6" stroke="#1a1a1a" stroke-width="1.3"/>
<rect x="1172.55" y="1760.86" width="14.90" height="32.44" fill="#00B0F0" stroke="#1a1a1a" stroke-width="1.3"/>
<rect x="1191.05" y="1778.47" width="14.90" height="14.83" fill="#0070C0" stroke="#1a1a1a" stroke-width="1.3"/>
<rect x="1237.35" y="1713.89" width="14.90" height="79.41" fill="#E2F0D9" stroke="#1a1a1a" stroke-width="1.3"/>
<rect x="1255.85" y="1724.03" width="14.90" height="69.27" fill="#C5E0B4" stroke="#1a1a1a" stroke-width="1.3"/>
<rect x="1274.05" y="1673.86" width="14.90" height="119.44" fill="#92D050" stroke="#1a1a1a" stroke-width="1.3"/>
<rect x="1292.55" y="1689.34" width="14.90" height="103.96" fill="#00B050" stroke="#1a1a1a" stroke-width="1.3"/>
<rect x="1338.85" y="1747.52" width="14.90" height="45.78" fill="#FFD5D5" stroke="#1a1a1a" stroke-width="1.3"/>
<rect x="1357.35" y="1728.84" width="14.90" height="64.46" fill="#FF9F9F" stroke="#1a1a1a" stroke-width="1.3"/>
<rect x="1375.85" y="1696.81" width="14.90" height="96.49" fill="#FF3333" stroke="#1a1a1a" stroke-width="1.3"/>
<rect x="1394.05" y="1724.57" width="14.90" height="68.73" fill="#C00000" stroke="#1a1a1a" stroke-width="1.3"/>
<path d="M1142.80 1789.03V1773.55M1140.20 1773.55h5.2M1140.20 1789.03h5.2" stroke="#1a1a1a" stroke-width="1.4" fill="none"/>
<path d="M1161.30 1789.03V1739.93M1158.70 1739.93h5.2M1158.70 1789.03h5.2" stroke="#1a1a1a" stroke-width="1.4" fill="none"/>
<path d="M1180.00 1785.29V1734.59M1177.40 1734.59h5.2M1177.40 1785.29h5.2" stroke="#1a1a1a" stroke-width="1.4" fill="none"/>
<path d="M1198.50 1793.30V1761.81M1195.90 1761.81h5.2M1195.90 1793.30h5.2" stroke="#1a1a1a" stroke-width="1.4" fill="none"/>
<path d="M1244.80 1724.98V1700.97M1242.20 1700.97h5.2M1242.20 1724.98h5.2" stroke="#1a1a1a" stroke-width="1.4" fill="none"/>
<path d="M1263.30 1735.13V1712.71M1260.70 1712.71h5.2M1260.70 1735.13h5.2" stroke="#1a1a1a" stroke-width="1.4" fill="none"/>
<path d="M1281.50 1724.45V1623.05M1278.90 1623.05h5.2M1278.90 1724.45h5.2" stroke="#1a1a1a" stroke-width="1.4" fill="none"/>
<path d="M1300.00 1754.87V1624.11M1297.40 1624.11h5.2M1297.40 1754.87h5.2" stroke="#1a1a1a" stroke-width="1.4" fill="none"/>
<path d="M1346.30 1751.67V1741.53M1343.70 1741.53h5.2M1343.70 1751.67h5.2" stroke="#1a1a1a" stroke-width="1.4" fill="none"/>
<path d="M1364.80 1738.86V1719.11M1362.20 1719.11h5.2M1362.20 1738.86h5.2" stroke="#1a1a1a" stroke-width="1.4" fill="none"/>
<path d="M1383.30 1742.60V1650.26M1380.70 1650.26h5.2M1380.70 1742.60h5.2" stroke="#1a1a1a" stroke-width="1.4" fill="none"/>
<path d="M1401.50 1747.93V1700.43M1398.90 1700.43h5.2M1398.90 1747.93h5.2" stroke="#1a1a1a" stroke-width="1.4" fill="none"/>
<path d="M1114.10 1606.50H1119.10V1793.30H1426.60M1114.10 1793.30H1119.10M1114.10 1766.61H1119.10M1114.10 1739.93H1119.10M1114.10 1713.24H1119.10M1114.10 1686.56H1119.10M1114.10 1659.87H1119.10M1114.10 1633.19H1119.10M1221.60 1793.30v4M1323.60 1793.30v4M1425.60 1793.30v4M1119.10 1793.30v3.5" stroke="#000" stroke-width="2.8" fill="none" stroke-linecap="butt" stroke-linejoin="round"/>
<text x="1099.47" y="1797.70" font-size="16" textLength="7.83" lengthAdjust="spacingAndGlyphs" fill="#3a3a3a">0</text>
<text x="1099.47" y="1771.01" font-size="16" textLength="7.83" lengthAdjust="spacingAndGlyphs" fill="#3a3a3a">5</text>
<text x="1091.64" y="1744.33" font-size="16" textLength="15.66" lengthAdjust="spacingAndGlyphs" fill="#3a3a3a">10</text>
<text x="1091.64" y="1717.64" font-size="16" textLength="15.66" lengthAdjust="spacingAndGlyphs" fill="#3a3a3a">15</text>
<text x="1091.64" y="1690.96" font-size="16" textLength="15.66" lengthAdjust="spacingAndGlyphs" fill="#3a3a3a">20</text>
<text x="1091.64" y="1664.27" font-size="16" textLength="15.66" lengthAdjust="spacingAndGlyphs" fill="#3a3a3a">25</text>
<text x="1091.64" y="1637.59" font-size="16" textLength="15.66" lengthAdjust="spacingAndGlyphs" fill="#3a3a3a">30</text>
<text x="1091.64" y="1610.90" font-size="16" textLength="15.66" lengthAdjust="spacingAndGlyphs" fill="#3a3a3a">35</text>
<text x="0" y="0" font-size="21" stroke="#000" stroke-width="0.45" transform="translate(1148.10,1831.19) rotate(-90)">0 h</text>
<text x="0" y="0" font-size="21" stroke="#000" stroke-width="0.45" transform="translate(1167.10,1842.87) rotate(-90)">24 h</text>
<text x="0" y="0" font-size="21" stroke="#000" stroke-width="0.45" transform="translate(1185.80,1842.87) rotate(-90)">72 h</text>
<text x="0" y="0" font-size="21" stroke="#000" stroke-width="0.45" transform="translate(1204.60,1854.55) rotate(-90)">120 h</text>
<text x="0" y="0" font-size="21" stroke="#000" stroke-width="0.45" transform="translate(1249.60,1831.19) rotate(-90)">0 h</text>
<text x="0" y="0" font-size="21" stroke="#000" stroke-width="0.45" transform="translate(1268.60,1842.87) rotate(-90)">24 h</text>
<text x="0" y="0" font-size="21" stroke="#000" stroke-width="0.45" transform="translate(1287.40,1842.87) rotate(-90)">72 h</text>
<text x="0" y="0" font-size="21" stroke="#000" stroke-width="0.45" transform="translate(1306.30,1854.55) rotate(-90)">120 h</text>
<text x="0" y="0" font-size="21" stroke="#000" stroke-width="0.45" transform="translate(1351.10,1831.19) rotate(-90)">0 h</text>
<text x="0" y="0" font-size="21" stroke="#000" stroke-width="0.45" transform="translate(1369.60,1842.87) rotate(-90)">24 h</text>
<text x="0" y="0" font-size="21" stroke="#000" stroke-width="0.45" transform="translate(1388.10,1842.87) rotate(-90)">72 h</text>
<text x="0" y="0" font-size="21" stroke="#000" stroke-width="0.45" transform="translate(1407.40,1854.55) rotate(-90)">120 h</text>
<line x1="1130.40" y1="1861.20" x2="1207.90" y2="1861.20" stroke="#000" stroke-width="1.8"/>
<line x1="1234.80" y1="1861.20" x2="1312.30" y2="1861.20" stroke="#000" stroke-width="1.8"/>
<line x1="1335.60" y1="1861.20" x2="1413.60" y2="1861.20" stroke="#000" stroke-width="1.8"/>
<text x="1136.03" y="1884.20" font-size="18" textLength="58.54" lengthAdjust="spacing" stroke="#000" stroke-width="0.3">91-112</text>
<text x="1247.61" y="1884.20" font-size="18" textLength="61.03" lengthAdjust="spacing" stroke="#000" stroke-width="0.3">T12-19</text>
<text x="1354.56" y="1884.20" font-size="18" textLength="49.26" lengthAdjust="spacing" stroke="#000" stroke-width="0.3">12-85</text>
<text x="0" y="0" font-size="22" stroke="#000" stroke-width="0.45" textLength="247.00" lengthAdjust="spacingAndGlyphs" transform="translate(43.00,1559.70) rotate(-90)">Relative expression level</text>
<text x="0" y="0" font-size="22" stroke="#000" stroke-width="0.45" textLength="247.00" lengthAdjust="spacingAndGlyphs" transform="translate(42.30,1821.50) rotate(-90)">Relative expression level</text>
</svg>
</body></html>
